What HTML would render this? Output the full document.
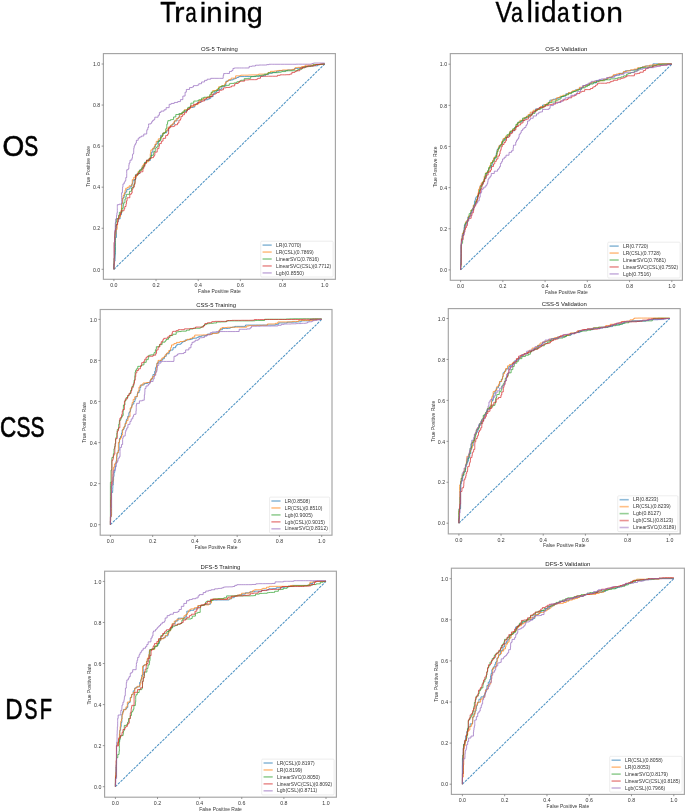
<!DOCTYPE html><html><head><meta charset="utf-8"><style>html,body{margin:0;padding:0;background:#fff;}svg{display:block;filter:blur(0.35px);}text{font-family:"Liberation Sans",sans-serif;}</style></head><body>
<svg width="685" height="812" viewBox="0 0 685 812">
<rect x="0" y="0" width="685" height="812" fill="#fff"/>
<text x="160.2" y="21.8" font-size="29.2" textLength="15.72" lengthAdjust="spacingAndGlyphs" fill="#000" stroke="#000" stroke-width="0.35">T</text>
<text transform="translate(0,21.8) scale(1,0.92)" x="174.11" y="0" font-size="29.2" textLength="10.5" lengthAdjust="spacingAndGlyphs" fill="#000" stroke="#000" stroke-width="0.35">r</text>
<text transform="translate(0,21.8) scale(1,0.92)" x="185.29" y="0" font-size="29.2" textLength="11.53" lengthAdjust="spacingAndGlyphs" fill="#000" stroke="#000" stroke-width="0.35">a</text>
<text transform="translate(0,21.8) scale(1,0.95)" x="199.76" y="0" font-size="29.2" textLength="6.49" lengthAdjust="spacingAndGlyphs" fill="#000" stroke="#000" stroke-width="0.35">i</text>
<text transform="translate(0,21.8) scale(1,0.92)" x="206.23" y="0" font-size="29.2" textLength="16.3" lengthAdjust="spacingAndGlyphs" fill="#000" stroke="#000" stroke-width="0.35">n</text>
<text transform="translate(0,21.8) scale(1,0.95)" x="223.66" y="0" font-size="29.2" textLength="6.49" lengthAdjust="spacingAndGlyphs" fill="#000" stroke="#000" stroke-width="0.35">i</text>
<text transform="translate(0,21.8) scale(1,0.92)" x="230.83" y="0" font-size="29.2" textLength="16.3" lengthAdjust="spacingAndGlyphs" fill="#000" stroke="#000" stroke-width="0.35">n</text>
<text transform="translate(0,21.8) scale(1,0.92)" x="246.77" y="0" font-size="29.2" textLength="16.02" lengthAdjust="spacingAndGlyphs" fill="#000" stroke="#000" stroke-width="0.35">g</text>
<text x="495.57" y="21.9" font-size="29.2" textLength="16.57" lengthAdjust="spacingAndGlyphs" fill="#000" stroke="#000" stroke-width="0.35">V</text>
<text transform="translate(0,21.9) scale(1,0.92)" x="511.06" y="0" font-size="29.2" textLength="11.96" lengthAdjust="spacingAndGlyphs" fill="#000" stroke="#000" stroke-width="0.35">a</text>
<text transform="translate(0,21.9) scale(1,0.98)" x="526.42" y="0" font-size="29.2" textLength="6.45" lengthAdjust="spacingAndGlyphs" fill="#000" stroke="#000" stroke-width="0.35">l</text>
<text transform="translate(0,21.9) scale(1,0.95)" x="533.71" y="0" font-size="29.2" textLength="6.49" lengthAdjust="spacingAndGlyphs" fill="#000" stroke="#000" stroke-width="0.35">i</text>
<text transform="translate(0,21.9) scale(1,0.98)" x="541.1" y="0" font-size="29.2" textLength="15.52" lengthAdjust="spacingAndGlyphs" fill="#000" stroke="#000" stroke-width="0.35">d</text>
<text transform="translate(0,21.9) scale(1,0.92)" x="556.9" y="0" font-size="29.2" textLength="12.72" lengthAdjust="spacingAndGlyphs" fill="#000" stroke="#000" stroke-width="0.35">a</text>
<text transform="translate(0,21.9) scale(1,0.95)" x="571.9" y="0" font-size="29.2" textLength="8.76" lengthAdjust="spacingAndGlyphs" fill="#000" stroke="#000" stroke-width="0.35">t</text>
<text transform="translate(0,21.9) scale(1,0.95)" x="582.61" y="0" font-size="29.2" textLength="6.49" lengthAdjust="spacingAndGlyphs" fill="#000" stroke="#000" stroke-width="0.35">i</text>
<text transform="translate(0,21.9) scale(1,0.92)" x="589.79" y="0" font-size="29.2" textLength="15.72" lengthAdjust="spacingAndGlyphs" fill="#000" stroke="#000" stroke-width="0.35">o</text>
<text transform="translate(0,21.9) scale(1,0.92)" x="606.38" y="0" font-size="29.2" textLength="16.69" lengthAdjust="spacingAndGlyphs" fill="#000" stroke="#000" stroke-width="0.35">n</text>
<text x="2.5" y="155.8" font-size="29.2" textLength="21.71" lengthAdjust="spacingAndGlyphs" fill="#000" stroke="#000" stroke-width="0.65">O</text>
<text x="24.37" y="155.8" font-size="29.2" textLength="13.96" lengthAdjust="spacingAndGlyphs" fill="#000" stroke="#000" stroke-width="0.65">S</text>
<text x="0.08" y="436.8" font-size="29.2" textLength="16.25" lengthAdjust="spacingAndGlyphs" fill="#000" stroke="#000" stroke-width="0.65">C</text>
<text x="16.47" y="436.8" font-size="29.2" textLength="13.96" lengthAdjust="spacingAndGlyphs" fill="#000" stroke="#000" stroke-width="0.65">S</text>
<text x="30.47" y="436.8" font-size="29.2" textLength="13.96" lengthAdjust="spacingAndGlyphs" fill="#000" stroke="#000" stroke-width="0.65">S</text>
<text x="5.35" y="718.9" font-size="29.2" textLength="17.37" lengthAdjust="spacingAndGlyphs" fill="#000" stroke="#000" stroke-width="0.65">D</text>
<text x="24.45" y="718.9" font-size="29.2" textLength="12.92" lengthAdjust="spacingAndGlyphs" fill="#000" stroke="#000" stroke-width="0.65">S</text>
<text x="39.87" y="718.9" font-size="29.2" textLength="12.31" lengthAdjust="spacingAndGlyphs" fill="#000" stroke="#000" stroke-width="0.65">F</text>
<line x1="113.9" y1="269.3" x2="324.7" y2="64" stroke="#1f77b4" stroke-opacity="0.8" stroke-width="1.05" stroke-dasharray="2.55 1.1"/>
<polyline points="113.9,269.3 113.9,265.63 114,265.63 114,263.79 114.38,263.79 114.38,261.17 115.07,261.17 115.07,259.16 115.07,256.66 115.2,256.66 115.2,254.05 115.4,254.05 115.4,252.12 115.4,250.31 115.45,250.31 115.45,246.4 115.45,242.56 115.45,240.58 115.45,237.51 116.45,237.51 116.45,234.99 116.45,232.03 116.45,228.15 116.53,228.15 116.53,224.48 117.34,224.48 117.34,222.63 117.48,222.63 117.48,221.75 118.36,221.75 118.36,218.93 120.12,218.93 120.12,215.68 120.41,215.68 120.41,214.79 121.46,214.79 121.46,212.95 121.46,210.85 121.46,208.11 121.89,208.11 121.89,206.2 121.89,203.87 122.19,203.87 122.19,202.67 122.77,202.67 122.77,198.7 123.1,198.7 123.1,197.56 124.21,197.56 124.21,194.94 125.04,194.94 125.04,192.1 126.68,192.1 126.68,189.58 128.18,189.58 128.18,188.97 129.99,188.97 129.99,186.72 131.73,186.72 131.73,184.07 132.74,184.07 132.74,182.41 132.99,182.41 132.99,180.13 134.89,180.13 134.89,179.22 135.91,179.22 135.91,175.88 137.05,175.88 137.05,173.35 139.85,173.35 139.85,169.77 141.42,169.77 141.42,168.08 142.96,168.08 142.96,165.43 144.83,165.43 144.83,162.25 146.88,162.25 146.88,160.46 150.37,160.46 150.37,157.34 151.14,157.34 151.14,154.93 151.65,154.93 151.65,152.09 152.86,152.09 152.86,148.7 154.18,148.7 154.18,146.47 155.5,146.47 155.5,144.07 157.31,144.07 157.31,141.59 159.53,141.59 159.53,140.32 160.16,140.32 160.16,138.18 160.69,138.18 160.69,135.29 162.94,135.29 162.94,132.9 165.1,132.9 165.1,132.7 166.71,132.7 166.71,130.76 168.61,130.76 168.61,127.87 170.09,127.87 170.09,125.77 172.13,125.77 172.13,124.06 174.44,124.06 174.44,120.91 177.08,120.91 177.08,119.42 177.08,118.38 178.35,118.38 178.35,117.38 179.38,117.38 179.38,114.03 181.54,114.03 181.54,113.6 182.76,113.6 182.76,112.36 184.27,112.36 184.27,111.66 185.91,111.66 185.91,110.97 187.39,110.97 187.39,109.31 189.39,109.31 189.39,107.46 193.07,107.46 193.07,107.04 194.75,107.04 194.75,104.57 197.54,104.57 197.54,102.43 200.82,102.43 200.82,100.04 204.11,100.04 205.54,100.04 205.54,99.75 207.75,99.75 207.75,99.04 209.43,99.04 209.43,98.29 210.83,98.29 210.83,96.64 213.15,96.64 213.15,94.12 214.17,94.12 214.17,92.76 215.71,92.76 215.71,91.78 216.9,91.78 216.9,90.36 218.94,90.36 218.94,89.36 220.8,89.36 220.8,88.9 221.93,88.9 221.93,86.35 225.03,86.35 225.03,84.72 225.97,84.72 225.97,81.21 228.04,81.21 228.04,80.27 231,80.27 231,79.85 233.17,79.85 233.17,78.9 235.31,78.9 235.31,78.25 236.83,78.25 236.83,77.46 238.76,77.46 238.76,76.55 240.89,76.55 244.69,76.55 246.99,76.55 250.24,76.55 251.4,76.55 253.82,76.55 253.82,76.23 256.49,76.23 259.08,76.23 262.92,76.23 262.92,75.78 265.44,75.78 265.44,74.38 268.79,74.38 268.79,73.23 272.38,73.23 272.38,72.36 276.46,72.36 276.46,71.24 279.34,71.24 279.34,70.69 283.42,70.69 285.75,70.69 287.49,70.69 287.49,69.95 290.66,69.95 293.36,69.95 293.36,69.47 294.56,69.47 294.56,68.43 298.18,68.43 298.18,68.12 300.07,68.12 300.07,67.55 303.74,67.55 303.74,66.86 305.92,66.86 305.92,66.34 308.37,66.34 308.37,65.87 311.85,65.87 314.54,65.84 317.65,65.84 317.65,64.88 319.43,64.88 319.43,64.5 320.44,64.5 320.44,64.21 323.23,64.21 323.23,64 324.7,64" fill="none" stroke="#1f77b4" stroke-opacity="0.78" stroke-width="0.9" stroke-linejoin="miter"/>
<polyline points="113.9,269.3 113.9,267.84 113.9,266 114.05,266 114.05,263.42 114.52,263.42 114.52,259.92 114.52,258.59 114.52,256.2 114.52,252.78 114.52,249.49 114.52,247.73 114.52,246.6 114.52,245.48 114.69,245.48 114.69,243.35 114.86,243.35 114.86,241.62 114.86,239.87 114.86,237.51 115.31,237.51 115.34,235.77 115.34,234.14 115.95,234.14 115.95,232.99 115.95,229.45 117.11,229.45 117.11,227.84 117.24,227.84 117.24,223.68 117.35,223.68 117.35,221.63 117.68,221.63 117.68,218.69 118.93,218.69 118.93,216.8 120.52,216.8 120.52,212.97 121.11,212.97 121.11,210.13 121.54,210.13 121.54,206.28 121.54,203.54 122.39,203.54 122.39,202.36 122.39,199.89 122.39,198.54 123.2,198.54 123.2,195.54 124.05,195.54 124.05,193.51 125,193.51 125,190.24 125.74,190.24 125.74,188.22 127.51,188.22 127.51,187.3 127.91,187.3 129.13,187.3 129.13,185.79 132.05,185.79 132.05,183.42 132.27,183.42 132.27,179.57 133.7,179.57 133.7,177.26 136.42,177.26 136.42,175.76 137.36,175.76 137.36,173.12 138.17,173.12 138.17,171.21 139.76,171.21 139.76,170.23 141.68,170.23 141.68,169.29 142.17,169.29 142.17,165.94 143.44,165.94 143.44,163.93 145.82,163.93 145.82,161.68 148.82,161.68 148.82,159.19 150.27,159.19 150.27,157.92 150.27,156.3 150.27,153.71 150.68,153.71 150.68,151.92 150.86,151.92 150.86,149.91 152.73,149.91 152.73,148.1 154.36,148.1 154.36,146.99 154.79,146.99 154.79,144.47 156.23,144.47 156.23,141.35 158.25,141.35 158.25,138.85 160.97,138.85 160.97,136.98 161.48,136.98 161.48,136.22 162.67,136.22 162.67,134.8 162.67,133.46 163.81,133.46 163.81,132.66 165.02,132.66 165.02,131.85 166.01,131.85 166.01,130.75 167.09,130.75 167.09,129.2 168.19,129.2 168.19,127.09 170.64,127.09 170.64,125.06 172.17,125.06 172.17,124.46 173.14,124.46 173.14,122.95 173.94,122.95 173.94,121.67 174.61,121.67 174.61,120.82 176.15,120.82 176.15,118.64 178.1,118.64 178.1,117.85 178.87,117.85 178.87,116.71 179.84,116.71 179.84,114.36 182.08,114.36 182.08,112.3 184.31,112.3 184.31,109.77 187.52,109.77 187.52,108.28 190.62,108.28 190.62,106.72 193.29,106.72 193.29,105.76 195.36,105.76 195.36,104.21 197.94,104.21 197.94,103.72 199.07,103.72 199.07,100.61 201.62,100.61 201.62,99.63 203.36,99.63 203.36,98.13 207.1,98.13 207.1,96.93 210.26,96.93 210.26,96.22 211.09,96.22 211.09,92.76 212.73,92.76 212.73,90.54 216.43,90.54 216.43,89.52 218.57,89.52 218.57,86.82 221.64,86.82 221.64,85.73 224.66,85.73 224.66,83.8 225.57,83.8 225.57,82.34 226.45,82.34 226.45,81.57 227.63,81.57 227.63,80.85 228.79,80.85 228.79,79.61 231.08,79.61 231.08,78.12 232.6,78.12 233.9,78.12 235.61,78.12 235.61,75.85 238.43,75.85 238.43,75.79 240.69,75.79 240.69,75.18 244.32,75.18 248.31,75.18 248.31,75.03 251.45,75.03 251.45,74.92 254,74.92 257.32,74.92 257.32,74.78 258.61,74.78 258.61,74.12 260.1,74.12 263.67,74.12 265.91,74.12 267.98,74.12 267.98,72.45 270.52,72.45 270.52,71.33 274.38,71.33 274.38,70.99 277.18,70.99 277.18,70.75 278.53,70.75 278.53,70.44 282.26,70.44 282.26,69.98 285.73,69.98 288.72,69.98 292.22,69.98 292.22,69.39 293.87,69.39 293.87,69.21 295.16,69.21 295.16,67.61 297.65,67.61 297.65,67.36 301.64,67.36 301.64,66.51 305.03,66.51 305.03,65.16 308.5,65.16 309.85,65.16 311.25,65.13 313.05,65.12 313.05,64.76 317.17,64.76 317.17,64.4 318.69,64.4 318.69,64.24 320.48,64.24 320.48,64 324.7,64" fill="none" stroke="#ff7f0e" stroke-opacity="0.78" stroke-width="0.9" stroke-linejoin="miter"/>
<polyline points="113.9,269.3 113.9,265.28 113.9,263.97 113.94,260.33 113.94,258.32 114.59,258.32 114.59,255.39 114.78,255.39 114.8,253.86 114.8,251.48 115,251.48 115,247.33 115,243.33 115,241.54 115,240.29 115,238.28 115,236.03 115,233.37 115.3,233.37 115.3,231.56 115.3,230.11 115.46,230.11 115.46,227.43 115.46,225.89 115.82,225.89 115.82,222 116.39,222 116.39,218.64 118.5,218.64 118.5,215.37 119.38,215.37 119.38,212.3 122.12,212.3 122.12,208.35 123.28,208.35 123.28,205.05 123.62,205.05 123.62,202.85 124.94,202.85 124.94,199.03 125.85,199.03 125.85,196.48 126.37,196.48 126.37,194.35 129.44,194.35 129.44,191.33 131.51,191.33 131.51,187.9 133.67,187.9 133.67,184.75 134.68,184.75 134.68,182.71 134.97,182.71 134.97,179.47 135.4,179.47 135.4,177.46 135.4,174.7 138.6,174.7 138.6,171.77 139.79,171.77 139.79,170.09 142.09,170.09 142.09,167.67 143.64,167.67 143.64,165.96 144.7,165.96 144.7,162.5 146.68,162.5 146.68,160.28 149.03,160.28 149.03,158.25 151.08,158.25 151.08,155.33 153.44,155.33 153.44,154.11 153.77,154.11 153.77,151.62 155.24,151.62 155.24,148.01 156.33,148.01 156.33,147.05 157.85,147.05 157.85,145.31 158.35,145.31 158.38,143.54 158.38,140.83 160.24,140.83 160.24,139.9 160.9,139.9 160.9,137.04 162.23,137.04 162.23,135.94 162.93,135.94 162.93,133.32 164.97,133.32 164.97,132.46 165.67,132.46 165.67,130.8 165.67,129.33 166.03,129.33 166.03,128.3 166.82,128.3 166.82,124.23 167.55,124.23 167.55,122.14 167.88,122.14 167.88,120.64 170.39,120.64 170.39,119.71 172.29,119.71 172.29,119.48 173.58,119.48 173.58,116.94 175.8,116.94 175.8,114.52 178.81,114.52 178.81,113.68 181.95,113.68 181.95,112.13 184,112.13 184,110.34 185.3,110.34 186.99,110.34 186.99,109.14 187.87,109.14 187.87,107.39 190.19,107.39 190.19,105.96 190.87,105.96 190.87,103.15 193.76,103.15 193.76,101.05 194.99,101.05 196.44,101.05 197.67,101.03 197.67,100.69 198.76,100.69 198.76,99.72 201.62,99.72 201.62,98.07 203.87,98.07 203.87,97.24 207.82,97.24 207.82,96.97 209.65,96.97 209.65,94.72 211.31,94.72 211.31,92.13 212.82,92.13 212.82,91.72 214.58,91.72 214.58,90.91 216.8,90.91 216.8,90.46 217.87,90.46 217.87,88.53 219.37,88.53 219.37,87.17 220.58,87.17 220.58,86.44 221.72,86.44 221.72,85.88 223.64,85.88 226.36,85.88 226.36,85.37 229.26,85.37 229.26,83.82 230.43,83.82 230.43,83.41 233.88,83.41 233.88,82.95 236.3,82.95 236.3,82.27 237.31,82.27 237.31,81.64 239.5,81.64 239.5,81.09 240.73,81.09 240.73,80.28 244.18,80.28 244.18,78.64 247.78,78.64 247.78,78.35 250.73,78.35 250.73,76.55 252.59,76.55 253.77,76.55 255.79,76.55 255.79,75.94 259.37,75.94 259.37,75.42 261.76,75.42 261.76,75.13 264.08,75.13 264.08,74.27 266.83,74.27 266.83,73.99 268.06,73.99 268.06,72.85 271.88,72.85 271.88,72.75 273.16,72.75 273.16,72.66 276,72.66 278.34,72.66 278.34,72.3 280.49,72.3 280.49,71.96 281.9,71.96 281.9,71.59 285.57,71.59 285.57,70.78 288.57,70.78 289.71,70.78 292.8,70.78 295.5,70.78 297.71,70.78 297.71,69.54 299.22,69.54 299.22,69.25 301.99,69.25 301.99,67.83 305.09,67.83 305.09,66.63 308.88,66.63 308.88,66.54 310.66,66.54 310.66,65.89 313.14,65.89 313.14,64.69 316.12,64.69 316.12,64.58 320.04,64.58 320.04,64.51 321.37,64.51 321.37,64.1 323.5,64.1 323.5,64 324.7,64" fill="none" stroke="#2ca02c" stroke-opacity="0.78" stroke-width="0.9" stroke-linejoin="miter"/>
<polyline points="113.9,269.3 113.9,267.52 113.99,267.52 113.99,264.59 114.12,264.59 114.12,261.6 114.12,257.95 114.12,256.1 114.12,253.59 114.12,249.94 114.12,248.43 114.12,245.41 114.12,242.13 114.54,242.13 114.54,238.91 114.54,236.06 114.81,236.06 114.81,233.99 114.81,231.59 115.54,231.59 115.54,228.38 116.02,228.38 116.02,224.69 117.61,224.69 117.61,222.43 117.91,222.43 117.91,218.64 119.16,218.64 119.16,215.18 120.25,215.18 120.25,213.72 121.17,213.72 121.17,210.77 124.04,210.77 124.04,208.87 124.75,208.87 124.75,206.53 126.01,206.53 126.01,203.69 126.54,203.69 126.54,200.72 127.13,200.72 127.13,197.77 129.82,197.77 129.82,194.29 131.29,194.29 131.29,193.11 132.14,193.11 132.14,189.36 132.79,189.36 132.79,187.01 134.27,187.01 134.27,183.83 135.04,183.83 135.04,180.94 135.12,180.94 135.12,179.05 135.5,179.05 135.5,175.15 137.5,175.15 137.5,173.89 138.5,173.89 138.5,173.36 140.1,173.36 140.1,171.91 141.42,171.91 141.42,171.75 142.93,171.75 142.93,168.57 143.75,168.57 143.75,166.73 144.71,166.73 144.71,163.32 146.51,163.32 146.51,160.14 149.37,160.14 149.37,158.63 150.74,158.63 150.74,157.96 151.67,157.96 151.67,157.63 153.48,157.63 153.48,156.36 154.3,156.36 154.3,155.33 154.88,155.33 154.88,152.1 157.18,152.1 157.18,148.66 158.93,148.66 158.93,146 159.45,146 159.45,143.58 161.35,143.58 161.35,141.11 163.03,141.11 163.03,138.34 165.61,138.34 165.61,135.55 167.65,135.55 167.65,134.04 168.61,134.04 168.61,131 168.61,128.15 169.86,128.15 169.86,126.69 172.33,126.69 172.33,126.59 173.64,126.59 173.64,126.15 174.84,126.15 174.84,124.73 177.52,124.73 177.52,123.02 178.92,123.02 178.92,120.15 180.58,120.15 180.58,118.98 180.97,118.98 180.97,116.4 182.61,116.4 182.61,114.74 184.44,114.74 184.44,112.72 186.51,112.72 186.51,110.86 187.43,110.86 187.43,109.43 189.14,109.43 189.14,108 190.66,108 190.66,105.82 193.41,105.82 193.41,104.37 196.42,104.37 196.42,103.46 198.21,103.46 198.21,102.07 199.51,102.07 201.43,102.07 201.43,101.41 202.52,101.41 202.52,100.99 204.59,100.99 204.59,99.16 206.42,99.16 206.42,97.82 209.88,97.82 209.88,96.51 212.32,96.51 212.32,94.24 215.42,94.24 215.42,93.51 216.66,93.51 216.66,92.53 219.18,92.53 219.18,90.22 221.83,90.22 221.83,89.75 223.46,89.75 223.46,87.84 226.17,87.84 226.17,87.44 229.75,87.44 229.75,86.94 231.63,86.94 231.63,85.92 234.66,85.92 234.66,83.85 235.8,83.85 235.8,83.5 238.24,83.5 238.24,82.41 239.54,82.41 239.54,81.4 240.38,81.4 240.38,81.18 244.59,81.18 244.59,79.93 246.81,79.93 248.64,79.93 248.64,79.66 251.93,79.66 254.69,79.66 256.62,79.66 256.62,79.17 257.78,79.17 257.78,78.3 260.47,78.3 260.47,76.91 260.91,76.91 260.91,76.24 264.83,76.24 268.7,76.24 272.54,76.24 275.89,76.24 277.47,76.24 277.47,75.34 280.11,75.34 280.11,74.82 282.42,74.82 284.55,74.82 286.27,74.8 286.27,74.7 289.8,74.7 289.8,74.07 291.85,74.07 291.85,72.43 294.86,72.43 294.86,71.58 296.19,71.58 296.19,70.74 299.85,70.74 299.85,68.46 302.69,68.46 302.69,67.22 306.21,67.22 306.21,66.91 307.38,66.91 307.38,66.11 309.97,66.11 312.45,66.11 313.43,66.11 313.43,65.7 314.58,65.7 314.58,65.35 315.8,65.35 315.8,64.57 319.78,64.57 319.78,64.21 322.37,64.21 322.37,64 324.7,64" fill="none" stroke="#d62728" stroke-opacity="0.78" stroke-width="0.9" stroke-linejoin="miter"/>
<polyline points="113.9,269.3 113.9,267.52 113.9,266 113.9,264.75 114.2,264.75 114.2,261.22 114.2,257.79 114.2,255.88 114.2,254.31 114.2,250.37 114.2,246.75 114.2,245.1 114.27,245.1 114.27,243.1 114.63,243.1 114.63,239.39 114.86,239.39 114.86,235.64 114.86,232.53 114.86,229.99 115.29,229.99 115.29,228.79 115.29,224.84 115.29,222.86 115.65,222.86 115.65,218.99 116.51,218.99 116.51,215.4 116.92,215.4 116.92,212.8 117.33,212.8 117.33,210.36 117.33,208.83 117.33,207.57 117.33,206.59 117.33,204.68 119.19,204.68 119.19,204.16 121.62,204.16 121.62,201.77 121.62,199.46 121.62,197.53 121.62,195.44 121.62,192.71 122.44,192.71 122.44,188.85 122.58,188.85 122.58,187.11 122.95,187.11 122.95,183.91 124.21,183.91 124.21,182.08 125.07,182.08 125.07,180.67 125.8,180.67 125.8,177.54 126.7,177.54 126.73,173.63 126.73,169.79 128.15,169.79 128.15,168.86 128.83,168.86 128.83,165.18 129.12,165.18 129.12,163.03 130,163.03 130,160.11 131.89,160.11 131.89,158.23 132.4,158.23 132.4,156.74 132.51,156.74 132.51,154.56 132.97,154.56 132.97,153.63 133.63,153.63 133.63,152.43 133.69,152.43 133.69,150.22 133.76,150.22 133.76,148.24 134.17,148.24 134.17,145.98 134.85,145.98 134.85,144.46 135.66,144.46 135.66,143.04 136.39,143.04 136.39,140.29 138.2,140.29 138.2,138.14 139.61,138.14 139.61,137.07 141.3,137.07 141.3,136.05 143.79,136.05 143.79,134.03 146.72,134.03 146.72,131.27 146.86,131.27 146.86,129.74 147.8,129.74 147.8,127.52 148.58,127.52 148.58,125.6 148.58,123.96 150.93,123.96 150.93,123.12 151.7,123.12 151.7,121.67 152.64,121.67 152.64,120.41 153.8,120.41 153.8,119.63 154.77,119.63 154.77,117.21 158.1,117.21 158.1,115.21 159.41,115.21 159.41,112.43 160.96,112.43 160.96,111.11 164.05,111.11 164.05,109.79 166.12,109.79 166.12,107.65 169.16,107.65 169.16,104.34 171.17,104.34 171.17,103.45 174.28,103.45 174.28,102.45 177.72,102.45 177.72,101.56 180.43,101.56 180.43,99.62 182.83,99.62 182.83,96.07 185.09,96.07 185.09,92.17 186.35,92.17 186.35,89.44 189.55,89.44 189.55,87.58 192.07,87.58 192.07,87 193.5,87 193.5,85.64 197.36,85.64 197.36,85.14 198.78,85.14 198.78,83.72 201.55,83.72 201.55,81.97 204.58,81.97 204.58,80.36 206,80.36 207.11,80.36 207.11,79.19 210.73,79.19 210.73,78.34 214.11,78.34 218.08,78.34 219.75,78.34 223.2,78.34 223.2,75.48 223.67,75.48 223.67,73.59 225.34,73.59 225.34,73.46 226.48,73.46 229.49,73.46 229.49,71.48 231.8,71.48 231.8,70.52 232.96,70.52 232.96,68.43 234.33,68.43 234.33,67.98 235.38,67.98 236.73,67.98 239.48,67.98 241.44,67.98 243.28,67.98 244.58,67.98 246,67.98 249.16,67.98 249.16,66.42 250.63,66.42 251.77,66.42 251.77,66 255.51,66 255.51,65.2 259.11,65.2 259.11,65.02 261.47,65.02 265.24,65.02 266.83,64.98 266.83,64.64 268.93,64.64 268.93,64.28 271.66,64.28 272.72,64.28 274.73,64.28 278,64.28 280.55,64.28 284.24,64.28 286.03,64.28 289,64.28 292.16,64.28 296.04,64.28 296.04,64.18 298.54,64.18 302.29,64.18 305.78,64.18 307.26,64.18 310.71,64.18 310.71,63.99 312.16,63.99 312.16,63.49 313.46,63.49 313.46,63.05 315.05,63.05 318.91,63.05 321.04,63.05 324.7,63.05" fill="none" stroke="#9467bd" stroke-opacity="0.78" stroke-width="0.9" stroke-linejoin="miter"/>
<rect x="103.4" y="53.6" width="232" height="225.7" fill="none" stroke="#a4a4a4" stroke-width="1.15"/>
<line x1="113.9" y1="279.3" x2="113.9" y2="281.1" stroke="#777" stroke-width="0.75"/>
<line x1="103.4" y1="269.3" x2="101.6" y2="269.3" stroke="#777" stroke-width="0.75"/>
<text x="113.9" y="287.1" font-size="4.85" text-anchor="middle" fill="#363636" textLength="7.28" lengthAdjust="spacingAndGlyphs">0.0</text>
<text x="100.2" y="271.5" font-size="4.85" text-anchor="end" fill="#363636" textLength="7.28" lengthAdjust="spacingAndGlyphs">0.0</text>
<line x1="156.06" y1="279.3" x2="156.06" y2="281.1" stroke="#777" stroke-width="0.75"/>
<line x1="103.4" y1="228.24" x2="101.6" y2="228.24" stroke="#777" stroke-width="0.75"/>
<text x="156.06" y="287.1" font-size="4.85" text-anchor="middle" fill="#363636" textLength="7.28" lengthAdjust="spacingAndGlyphs">0.2</text>
<text x="100.2" y="230.44" font-size="4.85" text-anchor="end" fill="#363636" textLength="7.28" lengthAdjust="spacingAndGlyphs">0.2</text>
<line x1="198.22" y1="279.3" x2="198.22" y2="281.1" stroke="#777" stroke-width="0.75"/>
<line x1="103.4" y1="187.18" x2="101.6" y2="187.18" stroke="#777" stroke-width="0.75"/>
<text x="198.22" y="287.1" font-size="4.85" text-anchor="middle" fill="#363636" textLength="7.28" lengthAdjust="spacingAndGlyphs">0.4</text>
<text x="100.2" y="189.38" font-size="4.85" text-anchor="end" fill="#363636" textLength="7.28" lengthAdjust="spacingAndGlyphs">0.4</text>
<line x1="240.38" y1="279.3" x2="240.38" y2="281.1" stroke="#777" stroke-width="0.75"/>
<line x1="103.4" y1="146.12" x2="101.6" y2="146.12" stroke="#777" stroke-width="0.75"/>
<text x="240.38" y="287.1" font-size="4.85" text-anchor="middle" fill="#363636" textLength="7.28" lengthAdjust="spacingAndGlyphs">0.6</text>
<text x="100.2" y="148.32" font-size="4.85" text-anchor="end" fill="#363636" textLength="7.28" lengthAdjust="spacingAndGlyphs">0.6</text>
<line x1="282.54" y1="279.3" x2="282.54" y2="281.1" stroke="#777" stroke-width="0.75"/>
<line x1="103.4" y1="105.06" x2="101.6" y2="105.06" stroke="#777" stroke-width="0.75"/>
<text x="282.54" y="287.1" font-size="4.85" text-anchor="middle" fill="#363636" textLength="7.28" lengthAdjust="spacingAndGlyphs">0.8</text>
<text x="100.2" y="107.26" font-size="4.85" text-anchor="end" fill="#363636" textLength="7.28" lengthAdjust="spacingAndGlyphs">0.8</text>
<line x1="324.7" y1="279.3" x2="324.7" y2="281.1" stroke="#777" stroke-width="0.75"/>
<line x1="103.4" y1="64" x2="101.6" y2="64" stroke="#777" stroke-width="0.75"/>
<text x="324.7" y="287.1" font-size="4.85" text-anchor="middle" fill="#363636" textLength="7.28" lengthAdjust="spacingAndGlyphs">1.0</text>
<text x="100.2" y="66.2" font-size="4.85" text-anchor="end" fill="#363636" textLength="7.28" lengthAdjust="spacingAndGlyphs">1.0</text>
<text x="219.4" y="292.6" font-size="4.85" text-anchor="middle" fill="#363636" textLength="42.57" lengthAdjust="spacingAndGlyphs">False Positive Rate</text>
<text transform="translate(89.6,166.45) rotate(-90)" x="0" y="0" font-size="4.85" text-anchor="middle" fill="#363636" textLength="40.8" lengthAdjust="spacingAndGlyphs">True Positive Rate</text>
<text x="219.4" y="50.9" font-size="5.83" text-anchor="middle" fill="#1a1a1a" textLength="36.75" lengthAdjust="spacingAndGlyphs">OS-5 Training</text>
<rect x="260.72" y="241.21" width="72.39" height="35.8" rx="1" fill="#fff" fill-opacity="0.85" stroke="#e0e0e0" stroke-width="0.6"/>
<line x1="262.55" y1="245.11" x2="271.71" y2="245.11" stroke="#1f77b4" stroke-opacity="0.5" stroke-width="1.6"/>
<text x="275.98" y="246.78" font-size="4.85" fill="#363636" textLength="25.33" lengthAdjust="spacingAndGlyphs">LR(0.7070)</text>
<line x1="262.55" y1="252.06" x2="271.71" y2="252.06" stroke="#ff7f0e" stroke-opacity="0.5" stroke-width="1.6"/>
<text x="275.98" y="253.73" font-size="4.85" fill="#363636" textLength="37.56" lengthAdjust="spacingAndGlyphs">LR(CSL)(0.7869)</text>
<line x1="262.55" y1="259.01" x2="271.71" y2="259.01" stroke="#2ca02c" stroke-opacity="0.5" stroke-width="1.6"/>
<text x="275.98" y="260.68" font-size="4.85" fill="#363636" textLength="43.07" lengthAdjust="spacingAndGlyphs">LinearSVC(0.7816)</text>
<line x1="262.55" y1="265.96" x2="271.71" y2="265.96" stroke="#d62728" stroke-opacity="0.5" stroke-width="1.6"/>
<text x="275.98" y="267.63" font-size="4.85" fill="#363636" textLength="55.3" lengthAdjust="spacingAndGlyphs">LinearSVC(CSL)(0.7712)</text>
<line x1="262.55" y1="272.91" x2="271.71" y2="272.91" stroke="#9467bd" stroke-opacity="0.5" stroke-width="1.6"/>
<text x="275.98" y="274.58" font-size="4.85" fill="#363636" textLength="27.97" lengthAdjust="spacingAndGlyphs">Lgb(0.8550)</text>
<line x1="460.6" y1="269.9" x2="671.8" y2="64.2" stroke="#1f77b4" stroke-opacity="0.8" stroke-width="1.05" stroke-dasharray="2.55 1.1"/>
<polyline points="460.6,269.9 460.6,267.08 460.79,267.08 460.79,265.39 460.79,261.82 460.79,260.28 461.03,260.28 461.03,257.61 461.03,253.6 461.03,249.36 461.03,246.48 461.03,244.32 461.35,244.32 461.35,241.8 461.35,238.73 462.27,238.73 462.27,235.45 463.35,235.45 463.35,231.29 463.72,231.29 463.72,230.26 464.4,230.26 464.4,229.08 464.4,226.96 464.4,225.01 465.38,225.01 465.38,222.7 467.02,222.7 467.02,220.35 467.77,220.35 467.77,217.13 469.49,217.13 469.49,215.84 470.34,215.84 470.34,214.68 470.6,214.68 470.6,212.43 471.69,212.43 471.69,210.16 473.4,210.16 473.4,206.52 474.19,206.52 474.19,204.3 474.48,204.3 474.48,201.37 475.04,201.37 475.04,200.07 475.38,200.07 475.38,198.62 475.96,198.62 475.96,196.86 478.13,196.86 478.13,194.62 478.77,194.62 478.77,191.69 479.41,191.69 479.41,190.1 479.73,190.1 479.73,188.57 480.18,188.57 480.18,185.74 481.36,185.74 481.36,183.83 483.3,183.83 483.3,181.85 484.09,181.85 484.09,178.82 485.31,178.82 485.31,176.94 486.18,176.94 486.18,174.62 486.95,174.62 486.95,172.33 488.77,172.33 488.77,169.15 489.44,169.15 489.44,168.02 491.18,168.02 491.18,165.56 492.21,165.56 492.21,162.62 492.86,162.62 492.86,160.32 493.81,160.32 493.81,158.55 495.4,158.55 495.4,155.92 496.22,155.92 496.22,153.48 497.03,153.48 497.03,149.62 498.34,149.62 498.34,147.55 499.44,147.55 499.44,145.32 501.1,145.32 501.1,144.27 501.7,144.27 501.7,142.23 503.07,142.23 503.07,139.31 506.03,139.31 506.03,137.41 507.51,137.41 507.51,135.91 509.73,135.91 509.73,132.76 511.96,132.76 511.96,130.83 514.58,130.83 514.58,127.38 516.59,127.38 516.59,126.06 517.34,126.06 517.34,123.02 518.83,123.02 518.83,121.97 521.85,121.97 521.85,120.74 524.03,120.74 524.03,118.23 526.65,118.23 526.65,116.23 529.79,116.23 529.79,114.16 532.34,114.16 532.34,111.93 535.53,111.93 535.53,108.91 537.8,108.91 537.8,108.74 539.88,108.74 539.88,107.15 542.58,107.15 542.58,105 545.79,105 545.79,104.54 547.43,104.54 547.43,103.7 548.84,103.7 548.84,102.12 549.84,102.12 549.84,100.11 553.08,100.11 553.08,99.23 555.47,99.23 555.47,98.68 558.26,98.68 558.26,97.62 560.37,97.62 560.37,97.13 562.07,97.13 562.07,96.52 564.16,96.52 564.16,96.03 565.79,96.03 565.79,93.76 568.07,93.76 568.07,92.98 571.12,92.98 571.12,92.35 572.21,92.35 572.21,91.57 573.15,91.57 573.15,91.49 575.09,91.49 575.09,89.88 577.68,89.88 577.68,89.22 579.49,89.22 579.49,88.26 582.05,88.26 582.05,87.35 583.67,87.35 583.67,85.59 586.32,85.59 586.32,85.11 588.84,85.11 588.84,83.89 591.11,83.89 591.11,82.93 594.15,82.93 596.51,82.93 596.51,80.43 599.5,80.43 599.5,80.24 602.84,80.24 602.84,79.53 603.95,79.53 605.25,79.53 607.27,79.53 607.27,78.02 609.83,78.02 609.83,77.48 611.67,77.48 611.67,76.96 612.91,76.96 612.91,75.82 616.23,75.82 616.23,75.06 619.49,75.06 619.49,73.38 623.13,73.38 623.13,72.07 625.19,72.07 625.19,70.77 629.15,70.77 629.15,70.61 630.83,70.61 630.83,70.28 634.55,70.28 634.55,69.52 638.03,69.52 638.03,68.13 641.22,68.13 641.22,68 642.41,68 642.41,66.75 645.41,66.75 645.41,65.97 649.05,65.97 649.05,65.89 651.36,65.89 651.36,65.74 652.9,65.74 652.9,63.83 655.68,63.83 656.91,63.83 660.82,63.83 663.09,63.83 665.92,63.83 669.63,63.83 671.8,63.83" fill="none" stroke="#1f77b4" stroke-opacity="0.78" stroke-width="0.9" stroke-linejoin="miter"/>
<polyline points="460.6,269.9 460.6,267.45 460.89,267.45 460.89,264.96 461.18,264.96 461.18,262.33 461.37,262.33 461.37,259.69 461.37,256.69 461.37,254.7 461.37,253.38 461.37,252.21 461.37,248.1 461.37,245.17 461.37,243.56 461.37,242.38 461.37,240.8 461.65,240.8 461.65,238.34 462.09,238.34 462.09,235.93 462.41,235.93 462.41,233.1 463.67,233.1 463.67,230.65 464.5,230.65 464.5,228.89 465.29,228.89 465.29,224.63 465.64,224.63 465.64,221.71 467.11,221.71 467.11,219.93 468.08,219.93 468.08,218.68 468.4,218.68 468.4,216 470.73,216 470.73,213.69 471.09,213.69 471.09,210 472.64,210 472.64,208.42 473.26,208.42 473.26,205.11 475.67,205.11 475.67,202.72 475.67,201.65 476.36,201.65 476.36,199.96 477.22,199.96 477.22,198.78 477.8,198.78 477.8,195.07 477.8,193.78 478.16,193.78 478.16,192.59 478.47,192.59 478.47,189.25 479.62,189.25 479.62,186.85 480.27,186.85 480.27,185.5 481.25,185.5 481.25,182.88 482.87,182.88 482.87,181.71 483.69,181.71 483.69,179.89 484.22,179.89 484.22,176.11 485.73,176.11 485.73,172.79 487.64,172.79 487.64,171.53 488.86,171.53 488.86,168.41 489.44,168.41 489.44,167.07 489.78,167.07 489.78,165.49 490.74,165.49 490.74,162.52 492.52,162.52 492.52,161.22 492.77,161.22 492.77,160.22 493.72,160.22 493.72,157.67 495.13,157.67 495.13,156.13 496.98,156.13 496.98,153.41 497.27,153.41 497.27,150.67 498.07,150.67 498.07,149.34 498.84,149.34 498.84,145.83 500.41,145.83 500.41,144.65 501.58,144.65 501.58,141.64 503.1,141.64 503.1,138.54 505.62,138.54 505.62,135.97 508.43,135.97 508.43,135.04 509.44,135.04 509.44,133.82 509.82,133.82 509.82,131.56 512.14,131.56 512.14,130.05 513.23,130.05 513.23,129.11 515.06,129.11 515.06,127.69 515.93,127.69 515.93,126.26 516.94,126.26 516.94,123.66 518.06,123.66 518.06,122.8 519.83,122.8 519.83,120.32 522.86,120.32 522.86,119.15 524.32,119.15 524.32,117.62 526.23,117.62 526.23,116.42 528.04,116.42 528.04,114.58 530.19,114.58 530.19,112.19 533.17,112.19 533.17,110.23 536.82,110.23 536.82,109.38 539.58,109.38 539.58,108.43 540.76,108.43 540.76,106.49 544.13,106.49 544.13,104.69 546.82,104.69 546.82,103.14 549.42,103.14 549.42,101.83 551.6,101.83 551.6,99.95 555.32,99.95 555.32,99.75 556.69,99.75 556.69,97.61 559.89,97.61 559.89,96.21 562.74,96.21 562.74,95.2 566.66,95.2 566.66,94.16 568.53,94.16 568.53,92.57 571.94,92.57 571.94,91.01 573.72,91.01 573.72,90.6 576.6,90.6 576.6,89.47 579.37,89.47 579.37,87.28 581.69,87.28 583.2,87.27 583.2,85.87 586.4,85.87 586.4,84.82 589.54,84.82 589.54,83.01 591.94,83.01 591.94,82.06 594.17,82.06 594.17,81.36 597.48,81.36 598.66,81.36 598.66,81.08 600.39,81.08 600.39,80.67 603.6,80.67 603.6,79.18 607.29,79.18 607.29,78.05 608.87,78.05 608.87,77.11 611.88,77.11 611.88,76.18 613.34,76.18 613.34,74.64 616.11,74.64 616.11,74.05 618.35,74.05 618.35,73.44 621.48,73.44 623.35,73.44 623.35,71.58 626.72,71.58 626.72,70.84 630.42,70.84 630.42,69.79 632.25,69.79 633.89,69.79 633.89,69.1 637.38,69.1 637.38,67.79 640.42,67.79 640.42,67.55 641.97,67.55 641.97,67.04 644.36,67.04 644.36,66.2 646.56,66.2 646.56,66.03 649.59,66.03 649.59,65.13 653.14,65.13 653.14,64.71 657.16,64.71 657.16,64.54 658.3,64.54 658.3,63.75 662.05,63.75 664.87,63.75 666.88,63.75 668.35,63.75 671.8,63.75" fill="none" stroke="#ff7f0e" stroke-opacity="0.78" stroke-width="0.9" stroke-linejoin="miter"/>
<polyline points="460.6,269.9 460.6,267.38 460.72,267.38 460.72,265.89 460.99,265.89 460.99,264.82 461.06,264.82 461.06,261.25 461.06,258.06 461.17,258.06 461.17,254.95 461.28,254.95 461.28,253.46 461.28,249.65 461.28,248.41 461.28,245.26 461.62,245.26 461.62,243.31 462.58,243.31 462.58,242.09 462.58,240.8 462.58,239.57 462.58,235.5 463.02,235.5 463.02,233.23 463.67,233.23 463.67,231.88 464.27,231.88 464.27,230.2 464.27,227.04 464.91,227.04 464.91,223.77 466.38,223.77 466.38,221.97 467.94,221.97 467.94,219.53 468.73,219.53 468.73,217.25 469.14,217.25 469.14,213.67 471.06,213.67 471.06,210.08 472.93,210.08 472.93,208.15 474.03,208.15 474.03,205.1 475,205.1 475,203.43 475.6,203.43 475.6,201.61 476.9,201.61 476.9,199.05 477.45,199.05 477.45,197.82 477.45,195.44 478.62,195.44 478.62,193.9 479.4,193.9 479.4,190.5 480.18,190.5 480.18,189.29 480.83,189.29 480.83,186.35 482.05,186.35 482.05,185.27 482.46,185.27 482.46,182.29 483.22,182.29 483.22,181.35 484.07,181.35 484.07,179.54 484.71,179.54 484.71,177.02 485.26,177.02 485.26,173.47 487.18,173.47 487.18,171.91 487.52,171.91 487.52,170.6 488.6,170.6 488.6,167.59 490.12,167.59 490.12,165.94 491.03,165.94 491.03,162.96 492.75,162.96 492.75,161.85 492.92,161.85 492.92,161.26 494.36,161.26 494.36,157.71 496.54,157.71 496.54,154.94 496.88,154.94 496.88,151.65 498.08,151.65 498.08,148.36 499.65,148.36 499.65,146.18 501.09,146.18 501.09,144.12 502.56,144.12 502.56,140.82 504.81,140.82 504.81,137.71 506.96,137.71 506.96,134.67 509.21,134.67 509.21,132.97 510.21,132.97 510.21,131.01 512.8,131.01 512.8,128.75 515.06,128.75 515.06,127.06 515.84,127.06 515.84,124.57 517.81,124.57 517.81,122.18 520.77,122.18 520.77,120.72 522.62,120.72 522.62,118.06 525.77,118.06 525.77,117.29 528.62,117.29 528.62,115.3 532.18,115.3 532.18,113.37 535,113.37 535,110.52 537.59,110.52 537.59,109.14 540.82,109.14 540.82,108.13 542.77,108.13 542.77,106.32 545.61,106.32 545.61,104.53 548.33,104.53 548.33,102.63 551.67,102.63 551.67,101.99 555.73,101.99 555.73,100.24 557.84,100.24 557.84,99.78 559.13,99.78 559.13,98.94 561,98.94 561,96.51 563.43,96.51 563.43,95.74 566.06,95.74 566.06,94.77 568.6,94.77 568.6,93.59 571.61,93.59 571.61,92.29 573.55,92.29 573.55,91.5 575.44,91.5 575.44,91.1 576.72,91.1 576.72,90.35 578.59,90.35 578.59,89.61 581.59,89.61 581.59,87.87 585.16,87.87 585.16,86.61 587.42,86.61 587.42,85.34 589.52,85.34 589.52,84.05 591.28,84.05 593.22,84.05 593.22,82.8 593.84,82.8 593.84,82.53 596.1,82.53 596.1,81.75 598.36,81.75 598.36,81.03 599.95,81.03 599.95,80.68 603.2,80.68 604.85,80.68 604.85,79.81 608.37,79.81 610.31,79.81 610.31,78.84 613.73,78.84 615.57,78.84 615.57,78.36 617.75,78.36 617.75,77.7 620.93,77.7 620.93,76.92 623.59,76.92 623.59,75.85 626.56,75.85 626.56,74.19 628.16,74.19 628.16,73.49 630.67,73.49 630.67,72.58 631.9,72.58 631.9,72.33 633.67,72.33 633.67,71.91 634.77,71.91 634.77,70.8 638.14,70.8 638.14,68.68 640.46,68.68 640.46,67.61 642.55,67.61 644.83,67.61 646.36,67.61 649.3,67.61 649.3,66.98 652.69,66.98 652.69,65.71 654.25,65.71 654.25,65.48 656.43,65.48 656.43,64.86 658.69,64.86 658.69,64.53 662.23,64.53 662.23,64.24 664.06,64.24 668.14,64.24 671.8,64.2" fill="none" stroke="#2ca02c" stroke-opacity="0.78" stroke-width="0.9" stroke-linejoin="miter"/>
<polyline points="460.6,269.9 460.6,268.05 460.66,268.05 460.66,264.36 461.15,264.36 461.15,262.74 461.15,261 461.15,257.67 461.15,255.96 461.15,254 461.15,251.06 461.15,250 461.15,246.25 461.23,246.25 461.23,242.7 461.66,242.7 461.66,239.56 463.23,239.56 463.23,235.61 463.8,235.61 463.8,232.11 464.9,232.11 464.9,229.6 465.44,229.6 465.44,227.53 466.58,227.53 466.58,225.53 467.44,225.53 467.44,224.04 467.52,224.04 467.52,220.57 468.54,220.57 468.54,218.3 471.16,218.3 471.16,215.63 472,215.63 472,212.79 473.38,212.79 473.38,210.31 473.87,210.31 473.87,207.68 474.43,207.68 474.43,206.16 475.64,206.16 475.64,203.89 476.03,203.89 476.03,202.6 476.74,202.6 476.74,200.87 477.15,200.87 477.15,199.33 477.73,199.33 477.73,196.36 478.54,196.36 478.54,192.89 480.6,192.89 480.6,189.06 481.73,189.06 481.73,187.8 481.86,187.8 481.86,184.37 483.19,184.37 483.19,181.74 484.65,181.74 484.65,178.34 486.22,178.34 486.22,175.02 488.15,175.02 488.15,171.98 490.33,171.98 490.33,170.06 491.43,170.06 491.43,166.54 493.49,166.54 493.49,163.91 494.76,163.91 494.76,161.36 496.29,161.36 496.29,159.05 497.91,159.05 497.91,156.01 499.47,156.01 499.47,153.98 500.05,153.98 500.05,150.86 500.75,150.86 500.75,149.55 501.21,149.55 501.21,146.69 502.32,146.69 502.32,144.49 504.02,144.49 504.02,142.5 505.39,142.5 505.39,140.71 506.52,140.71 506.52,137.37 508.98,137.37 508.98,136.32 509.94,136.32 509.94,133.78 511.4,133.78 511.4,133.08 512.6,133.08 512.6,130.36 514.98,130.36 514.98,129.79 515.9,129.79 515.9,126.53 518.39,126.53 518.39,124.97 520.64,124.97 520.64,123.24 521.62,123.24 521.62,122.92 523.04,122.92 523.04,120.56 524.93,120.56 524.93,119.68 526.56,119.68 526.56,119.1 528.37,119.1 528.37,117.02 530.69,117.02 530.69,115.2 531.61,115.2 531.61,113.99 532.76,113.99 532.76,112.23 534.23,112.23 534.23,111.31 535.15,111.31 536.37,111.29 536.37,109.16 539.12,109.16 539.12,107.47 541.46,107.47 543.55,107.47 543.55,106.95 544.97,106.95 544.97,105.67 548.27,105.67 548.27,104.91 549.82,104.91 549.82,104.66 551.79,104.66 551.79,104.17 553.16,104.17 555.55,104.14 555.55,102.23 559.17,102.23 559.17,102.07 560.36,102.07 560.36,100.92 563.71,100.92 563.71,99.82 565.51,99.82 567.02,99.82 567.02,99.47 568.01,99.47 568.01,98.11 569.12,98.11 569.12,97.84 571.72,97.84 571.72,96.09 574.65,96.09 574.65,95.32 576.21,95.32 576.21,93.55 579.82,93.55 579.82,92 581.89,92 581.89,91.34 584.67,91.34 584.67,89.6 587.15,89.6 588.83,89.6 590.4,89.6 590.4,88.51 592.76,88.51 592.76,87.06 594.28,87.06 594.28,86.56 595.49,86.56 595.49,85.36 596.28,85.36 596.28,84.9 597.58,84.9 597.58,83.22 600.54,83.22 604.48,83.22 606.85,83.22 606.85,82.76 610.04,82.76 610.04,81.73 611.71,81.73 611.71,81.19 613.64,81.19 613.64,80.28 617.69,80.28 617.69,79.09 620.99,79.09 620.99,78.24 623.3,78.24 623.3,77.74 625.08,77.74 625.08,76.76 626.94,76.76 626.94,75.81 630.52,75.81 634.42,75.8 634.42,73.85 637.35,73.85 637.35,73.39 639.86,73.39 639.86,72.21 643.32,72.21 643.32,70.52 645.44,70.52 645.44,68.73 647.24,68.73 647.24,68.04 648.92,68.04 648.92,67.34 652.46,67.34 652.46,66.54 653.9,66.54 653.9,65.93 655.81,65.93 659.7,65.91 659.7,65.38 663.31,65.38 663.31,65.14 665,65.14 667.4,65.14 667.4,64.2 671.8,64.2" fill="none" stroke="#d62728" stroke-opacity="0.78" stroke-width="0.9" stroke-linejoin="miter"/>
<polyline points="460.6,269.9 460.63,268.53 460.63,264.55 461.09,264.55 461.09,262.67 461.09,259.57 461.09,257.59 461.09,254.12 461.09,252.71 461.09,250.48 461.09,248.65 461.09,247.22 461.15,247.22 461.15,244.5 461.51,244.5 461.51,241.5 462.15,241.5 462.15,240.08 462.34,240.08 462.36,238.39 462.36,234.62 464.31,234.62 464.31,232.01 464.31,229.06 464.31,227.93 465.1,227.93 465.1,225.35 466.29,225.35 466.29,224.18 466.94,224.18 466.94,220.86 468.71,220.86 468.71,218.59 469.64,218.59 469.64,216.91 470.13,216.91 470.13,215.9 471.16,215.9 471.16,212.44 472.25,212.44 472.25,211.36 472.64,211.36 472.64,208.29 473.97,208.29 473.97,207.04 474.43,207.04 474.43,204.99 476.01,204.99 476.01,203.06 477.65,203.06 477.65,200.96 479.15,200.96 479.15,199.52 479.26,199.52 479.26,197.19 480.23,197.19 480.23,193.22 481.18,193.22 481.18,192.06 481.66,192.06 481.66,189.5 482.69,189.5 482.69,188.79 483.81,188.79 483.81,187.08 485.83,187.08 485.83,185.28 487.02,185.28 487.02,183.55 487.72,183.55 487.72,181.68 488.05,181.68 488.05,179.2 488.88,179.2 488.88,177.83 490.13,177.83 490.13,176.17 491.27,176.17 491.27,173.49 494.31,173.49 494.31,171.2 497.55,171.2 497.55,169.34 498.81,169.34 498.81,168.02 499.54,168.02 499.54,166.62 500.45,166.62 500.45,164.78 500.45,163.22 501.68,163.22 501.68,161.4 502.56,161.4 502.56,158.94 504.24,158.94 504.24,157.25 505.99,157.25 505.99,155.21 509.04,155.21 509.04,152.38 511.44,152.38 511.44,150.82 513.1,150.82 513.1,147.83 513.44,147.83 513.44,145.18 515.69,145.18 515.69,142.14 516.46,142.14 516.46,140.53 517.31,140.53 517.31,139.01 518.61,139.01 518.61,137.23 519.17,137.23 519.17,134.24 520.29,134.24 520.29,132.96 521.21,132.96 521.21,130.57 522.6,130.57 522.6,128.94 524.13,128.94 524.13,127.52 525.88,127.52 525.88,125.37 526.89,125.37 526.89,124.01 527.53,124.01 527.53,121.03 529.31,121.03 529.31,119.71 530.48,119.71 530.48,118.25 533.22,118.25 533.22,115.98 536.48,115.98 536.48,113.86 538.74,113.86 538.74,112.3 540.4,112.3 540.4,111.92 542.46,111.92 542.46,109.4 544.9,109.4 546.16,109.4 548.93,109.36 548.93,108.33 550.1,108.33 550.1,105.55 553.39,105.55 553.39,103.38 556.25,103.38 557.75,103.38 557.75,102.47 561.06,102.47 561.06,101.06 562.84,101.06 562.84,99.29 565.17,99.29 565.17,97.87 568.36,97.87 568.36,97.14 570.89,97.14 570.89,95.31 574.52,95.31 574.52,94.49 576.18,94.49 576.18,94.28 577.29,94.28 577.29,91.55 580.51,91.55 580.51,87.88 582.56,87.88 582.56,85.53 585.62,85.53 585.62,84.53 587.96,84.53 587.96,83.25 589.71,83.25 589.71,82.89 591.14,82.89 591.14,81.35 594.87,81.35 594.87,80.74 598.96,80.74 598.96,79.43 601.33,79.43 601.33,78.88 605.16,78.88 606.47,78.88 606.47,77.55 609.75,77.55 609.75,77.35 612.13,77.35 614.54,77.3 614.54,75.63 615.84,75.63 615.84,75.03 618.29,75.03 618.29,74.91 620.56,74.91 620.56,74.57 622.26,74.57 622.26,74.22 624,74.22 624,72.96 625.6,72.96 625.6,72.66 626.88,72.66 628.14,72.66 631.29,72.66 631.29,72.56 634.78,72.56 634.78,71.6 636.98,71.6 636.98,70.04 639.67,70.04 639.67,69.3 642.82,69.3 642.82,68.31 645.84,68.31 648.18,68.31 648.18,67.68 651.52,67.68 653.77,67.68 653.77,67.07 655.54,67.07 655.54,66.77 657.1,66.77 657.1,66.23 660.78,66.23 660.78,65.32 662.57,65.32 664.13,65.32 664.13,65.12 666.77,65.12 666.77,64.66 669.75,64.66 669.75,64.2 671.8,64.2" fill="none" stroke="#9467bd" stroke-opacity="0.78" stroke-width="0.9" stroke-linejoin="miter"/>
<rect x="450.3" y="53.6" width="232.1" height="226.7" fill="none" stroke="#a4a4a4" stroke-width="1.15"/>
<line x1="460.6" y1="280.3" x2="460.6" y2="282.1" stroke="#777" stroke-width="0.75"/>
<line x1="450.3" y1="269.9" x2="448.5" y2="269.9" stroke="#777" stroke-width="0.75"/>
<text x="460.6" y="288.1" font-size="4.85" text-anchor="middle" fill="#363636" textLength="7.28" lengthAdjust="spacingAndGlyphs">0.0</text>
<text x="447.1" y="272.1" font-size="4.85" text-anchor="end" fill="#363636" textLength="7.28" lengthAdjust="spacingAndGlyphs">0.0</text>
<line x1="502.84" y1="280.3" x2="502.84" y2="282.1" stroke="#777" stroke-width="0.75"/>
<line x1="450.3" y1="228.76" x2="448.5" y2="228.76" stroke="#777" stroke-width="0.75"/>
<text x="502.84" y="288.1" font-size="4.85" text-anchor="middle" fill="#363636" textLength="7.28" lengthAdjust="spacingAndGlyphs">0.2</text>
<text x="447.1" y="230.96" font-size="4.85" text-anchor="end" fill="#363636" textLength="7.28" lengthAdjust="spacingAndGlyphs">0.2</text>
<line x1="545.08" y1="280.3" x2="545.08" y2="282.1" stroke="#777" stroke-width="0.75"/>
<line x1="450.3" y1="187.62" x2="448.5" y2="187.62" stroke="#777" stroke-width="0.75"/>
<text x="545.08" y="288.1" font-size="4.85" text-anchor="middle" fill="#363636" textLength="7.28" lengthAdjust="spacingAndGlyphs">0.4</text>
<text x="447.1" y="189.82" font-size="4.85" text-anchor="end" fill="#363636" textLength="7.28" lengthAdjust="spacingAndGlyphs">0.4</text>
<line x1="587.32" y1="280.3" x2="587.32" y2="282.1" stroke="#777" stroke-width="0.75"/>
<line x1="450.3" y1="146.48" x2="448.5" y2="146.48" stroke="#777" stroke-width="0.75"/>
<text x="587.32" y="288.1" font-size="4.85" text-anchor="middle" fill="#363636" textLength="7.28" lengthAdjust="spacingAndGlyphs">0.6</text>
<text x="447.1" y="148.68" font-size="4.85" text-anchor="end" fill="#363636" textLength="7.28" lengthAdjust="spacingAndGlyphs">0.6</text>
<line x1="629.56" y1="280.3" x2="629.56" y2="282.1" stroke="#777" stroke-width="0.75"/>
<line x1="450.3" y1="105.34" x2="448.5" y2="105.34" stroke="#777" stroke-width="0.75"/>
<text x="629.56" y="288.1" font-size="4.85" text-anchor="middle" fill="#363636" textLength="7.28" lengthAdjust="spacingAndGlyphs">0.8</text>
<text x="447.1" y="107.54" font-size="4.85" text-anchor="end" fill="#363636" textLength="7.28" lengthAdjust="spacingAndGlyphs">0.8</text>
<line x1="671.8" y1="280.3" x2="671.8" y2="282.1" stroke="#777" stroke-width="0.75"/>
<line x1="450.3" y1="64.2" x2="448.5" y2="64.2" stroke="#777" stroke-width="0.75"/>
<text x="671.8" y="288.1" font-size="4.85" text-anchor="middle" fill="#363636" textLength="7.28" lengthAdjust="spacingAndGlyphs">1.0</text>
<text x="447.1" y="66.4" font-size="4.85" text-anchor="end" fill="#363636" textLength="7.28" lengthAdjust="spacingAndGlyphs">1.0</text>
<text x="566.35" y="293.6" font-size="4.85" text-anchor="middle" fill="#363636" textLength="42.57" lengthAdjust="spacingAndGlyphs">False Positive Rate</text>
<text transform="translate(436.5,166.95) rotate(-90)" x="0" y="0" font-size="4.85" text-anchor="middle" fill="#363636" textLength="40.8" lengthAdjust="spacingAndGlyphs">True Positive Rate</text>
<text x="566.35" y="50.9" font-size="5.83" text-anchor="middle" fill="#1a1a1a" textLength="42.21" lengthAdjust="spacingAndGlyphs">OS-5 Validation</text>
<rect x="607.72" y="242.21" width="72.39" height="35.8" rx="1" fill="#fff" fill-opacity="0.85" stroke="#e0e0e0" stroke-width="0.6"/>
<line x1="609.55" y1="246.11" x2="618.71" y2="246.11" stroke="#1f77b4" stroke-opacity="0.5" stroke-width="1.6"/>
<text x="622.98" y="247.78" font-size="4.85" fill="#363636" textLength="25.33" lengthAdjust="spacingAndGlyphs">LR(0.7720)</text>
<line x1="609.55" y1="253.06" x2="618.71" y2="253.06" stroke="#ff7f0e" stroke-opacity="0.5" stroke-width="1.6"/>
<text x="622.98" y="254.73" font-size="4.85" fill="#363636" textLength="37.56" lengthAdjust="spacingAndGlyphs">LR(CSL)(0.7728)</text>
<line x1="609.55" y1="260.01" x2="618.71" y2="260.01" stroke="#2ca02c" stroke-opacity="0.5" stroke-width="1.6"/>
<text x="622.98" y="261.68" font-size="4.85" fill="#363636" textLength="43.07" lengthAdjust="spacingAndGlyphs">LinearSVC(0.7681)</text>
<line x1="609.55" y1="266.96" x2="618.71" y2="266.96" stroke="#d62728" stroke-opacity="0.5" stroke-width="1.6"/>
<text x="622.98" y="268.63" font-size="4.85" fill="#363636" textLength="55.3" lengthAdjust="spacingAndGlyphs">LinearSVC(CSL)(0.7592)</text>
<line x1="609.55" y1="273.91" x2="618.71" y2="273.91" stroke="#9467bd" stroke-opacity="0.5" stroke-width="1.6"/>
<text x="622.98" y="275.58" font-size="4.85" fill="#363636" textLength="27.97" lengthAdjust="spacingAndGlyphs">Lgb(0.7516)</text>
<line x1="110.4" y1="524.7" x2="321.7" y2="319.4" stroke="#1f77b4" stroke-opacity="0.8" stroke-width="1.05" stroke-dasharray="2.55 1.1"/>
<polyline points="110.4,524.7 110.4,520.83 110.54,520.83 110.54,516.97 111.26,516.97 111.26,515.12 111.57,515.12 111.6,511.36 111.6,508.53 111.6,504.39 111.6,503.03 111.6,500.59 111.6,498.9 111.6,496.81 111.6,494.58 111.6,492.47 112.64,492.47 112.64,490.99 112.74,490.99 112.74,489.65 112.74,488.02 112.85,488.02 112.85,484.86 113.31,484.86 113.31,483.32 113.31,480.09 113.58,480.09 113.58,476.4 114.07,476.4 114.07,475.28 114.07,472.32 114.76,472.32 114.76,469.32 115.17,469.32 115.17,466.47 115.85,466.47 115.85,463.44 116.09,463.44 116.09,460.73 116.72,460.73 116.72,456.8 117.05,456.8 117.05,453.18 118.12,453.18 118.12,450.45 119.15,450.45 119.15,448.26 119.15,445.55 119.15,442.97 119.15,441.8 119.55,441.8 119.55,438.17 120.51,438.17 120.51,436.34 121.46,436.34 121.46,433.08 122.12,433.08 122.12,429.95 123.59,429.95 123.59,428.86 124.18,428.86 124.18,426.63 125.22,426.63 125.22,424.43 125.4,424.43 125.4,423.18 125.85,423.18 125.85,421.37 126.33,421.37 126.33,419.58 127.17,419.58 127.17,418.53 127.7,418.53 127.7,416.27 128.86,416.27 128.86,415.11 128.86,412.62 129.78,412.62 129.78,411.32 130.55,411.32 130.55,409.47 131,409.47 131,407.32 131.73,407.32 131.73,405.62 132.15,405.62 132.15,404.11 133.82,404.11 133.82,401.46 135.01,401.46 135.01,399.09 135.83,399.09 135.83,396.44 137.28,396.44 137.28,394.07 137.53,394.07 137.53,392.59 139.18,392.59 139.18,390.55 139.95,390.55 139.95,389 139.95,387.39 140.92,387.39 140.92,384.94 144.2,384.94 144.2,383.53 146.02,383.53 147.45,383.53 147.45,382.72 150.13,382.72 150.13,380.11 151.62,380.11 151.62,378.3 152.95,378.3 152.95,374.55 154.64,374.55 154.64,371.38 155.45,371.38 155.45,367.73 156.26,367.73 156.26,366.5 156.83,366.5 156.83,363.4 158.19,363.4 158.19,361.77 160.4,361.77 160.4,360.11 162.72,360.11 162.72,358.71 164.37,358.71 164.37,356.31 166.28,356.31 166.28,353.77 169.17,353.77 169.17,351.53 170.06,351.53 170.06,350.11 171.25,350.11 171.25,350.04 173.02,350.04 173.02,347.69 175.65,347.69 175.65,345.93 176.95,345.93 176.95,344.32 180.76,344.32 180.76,343.55 181.72,343.55 181.72,342.36 182.76,342.36 182.76,341.77 183.7,341.77 183.7,341.47 185.13,341.47 185.13,339.91 188.22,339.91 188.22,339.81 189.35,339.81 189.35,339.55 190.89,339.55 190.89,339.14 192.56,339.14 192.56,338.3 194.66,338.3 194.66,338.11 196.97,338.11 196.97,337.34 198.71,337.34 198.71,336.42 201.52,336.42 201.52,335.8 204.86,335.8 204.86,335.68 206.16,335.68 206.16,335.04 207.49,335.04 207.49,334.05 210.44,334.05 212.62,334.05 212.62,333.02 216.36,333.02 216.36,332.83 219.15,332.83 219.15,330.29 220.14,330.29 220.14,329.69 222.45,329.69 222.45,328.43 225.47,328.43 228.17,328.43 228.17,328.23 230.35,328.23 230.35,327.47 232.32,327.47 232.32,327.06 234.81,327.06 234.81,326.39 236.23,326.39 240.06,326.39 243.87,326.39 245.44,326.39 245.44,325.07 247.47,325.07 249.43,325.07 251.42,325.07 252.7,325.07 255.22,325.07 258.5,325.07 261.57,325.07 263.03,325.07 265.39,325.07 269.43,325.07 272.89,325.07 275.46,325.07 275.46,324.61 277.18,324.61 277.18,324.24 278.78,324.24 278.78,322.93 281.97,322.93 285.43,322.93 287.15,322.93 287.15,322.19 290.96,322.19 294.74,322.19 296.43,322.19 296.43,321.89 298.91,321.89 301.07,321.85 301.07,320.91 302.58,320.91 302.58,320.83 305.42,320.83 307.55,320.83 309.79,320.83 309.79,319.59 313.41,319.59 313.41,319.37 314.83,319.37 317.48,319.37 318.63,319.37 321.7,319.37" fill="none" stroke="#1f77b4" stroke-opacity="0.78" stroke-width="0.9" stroke-linejoin="miter"/>
<polyline points="110.4,524.7 110.45,523.15 110.45,520.61 110.78,520.61 110.78,518.9 110.78,516.26 111.32,516.26 111.32,513.64 111.32,511.44 111.32,508.58 111.32,506.81 111.32,505.05 111.32,501.7 111.32,497.93 111.32,495.87 111.32,493.01 111.32,491.4 111.32,489.91 111.32,486.01 112,486.01 112,483.62 112.69,483.62 112.69,481.1 113.13,481.1 113.13,479.34 113.13,477.61 113.13,474.13 113.27,474.13 113.27,470.28 113.57,470.28 113.57,467.1 114.44,467.1 114.44,463.89 115.66,463.89 115.66,462.6 116.65,462.6 116.65,460.88 116.65,456.92 116.65,454.81 117.1,454.81 117.1,452.52 118.38,452.52 118.38,450.1 118.38,448.87 118.38,444.8 118.38,442.53 119.37,442.53 119.37,439.37 120.53,439.37 120.53,437.87 121.54,437.87 121.54,435.06 122.57,435.06 122.59,433.4 122.59,429.5 123.29,429.5 123.29,427.59 124.29,427.59 124.29,426.4 124.91,426.4 124.91,425.09 125.03,425.09 125.03,423.38 126.62,423.38 126.62,420.55 128.07,420.55 128.07,416.84 130.03,416.84 130.03,414.17 130.03,411.48 130.18,411.48 130.18,407.98 131.74,407.98 131.74,406.22 132.15,406.22 132.15,402.59 133.21,402.59 133.21,399.37 134.68,399.37 134.68,396.76 137.33,396.76 137.37,395.49 137.37,393.75 137.97,393.75 137.97,392.07 137.97,391.1 138.96,391.1 138.96,387.06 140.19,387.06 140.19,385.09 142.98,385.09 142.98,383.01 146.27,383.01 146.27,382.51 148.91,382.51 148.91,382.19 150.62,382.19 150.62,378.97 152.38,378.97 152.38,376.62 154.33,376.62 154.33,374.52 155.5,374.52 155.5,372.61 156.1,372.61 156.1,369.94 156.66,369.94 156.66,368.57 156.66,365.56 157,365.56 157,362.86 158.02,362.86 158.02,360.38 159.75,360.38 161.71,360.38 161.71,358.22 162.83,358.22 162.83,357.59 164.27,357.59 164.27,356.59 165.11,356.59 165.11,354.72 166.67,354.72 166.67,353.34 167.32,353.34 167.32,352.67 168.77,352.67 168.77,350.47 170.43,350.47 170.43,348.68 170.79,348.68 170.79,347.31 171.53,347.31 171.53,344.91 173.94,344.91 173.94,343.56 176.38,343.56 176.38,342.41 179.95,342.41 179.95,341.54 183.35,341.54 183.35,341 185.73,341 185.73,340.5 186.87,340.5 186.87,339.33 189.93,339.33 189.93,338.46 191.56,338.46 191.56,338.1 192.71,338.1 192.71,337.08 194.72,337.08 194.72,335.08 195.81,335.08 198.73,335.08 200.08,335.08 203.02,335.08 203.02,334.92 207.04,334.92 207.04,334.42 208.99,334.42 211.74,334.41 211.74,333.44 212.89,333.44 215.15,333.44 217.09,333.42 217.09,333.09 218.34,333.09 218.34,332.21 219.09,332.21 219.09,330.01 220.38,330.01 220.38,328.29 222.09,328.29 222.09,327.55 224.39,327.55 227.1,327.55 227.1,327.29 228.83,327.29 230.03,327.29 233.26,327.28 236.85,327.23 238.65,327.23 240.9,327.23 244.93,327.23 246.69,327.23 246.69,326.01 249.12,326.01 249.12,325.65 252.93,325.65 256.35,325.65 256.35,325.37 259.46,325.37 262.64,325.37 262.64,325.23 264.43,325.23 267.39,325.23 267.39,323.97 270.98,323.97 272.06,323.97 274.08,323.97 275.37,323.97 275.37,323.32 277.89,323.32 277.89,321.94 281.81,321.94 285.18,321.94 289.2,321.94 289.2,321.86 292.43,321.86 292.43,321.41 295.46,321.41 298.63,321.41 298.63,320.47 300.53,320.47 302.39,320.47 305.61,320.47 307.31,320.47 309.53,320.47 313.52,320.47 313.52,320 316.41,320 316.41,319.65 318.31,319.65 318.31,319.44 320.19,319.44 321.7,319.4" fill="none" stroke="#ff7f0e" stroke-opacity="0.78" stroke-width="0.9" stroke-linejoin="miter"/>
<polyline points="110.4,524.7 110.4,520.67 110.4,516.51 110.4,514.9 110.4,512.78 110.4,508.97 110.4,506.93 110.4,504.01 110.4,500.09 110.4,496.84 110.4,493.96 110.4,491.95 110.4,489.09 110.4,485.13 110.4,482.32 111,482.32 111.02,479.1 111.02,475.08 111.02,473.07 111.02,470.07 111.78,470.07 111.78,468.54 111.78,466.95 111.78,465.75 111.78,461.81 111.78,459.21 111.91,459.21 111.91,457.48 113.38,457.48 113.38,453.62 113.95,453.62 113.95,450.71 113.95,448.84 114.64,448.84 114.64,446.49 115.16,446.49 115.16,443.38 115.56,443.38 115.56,439.29 116.02,439.29 116.02,437.26 116.78,437.26 116.78,433.32 117.25,433.32 117.25,429.5 118.53,429.5 118.53,428.15 118.65,428.15 118.65,424.37 119.29,424.37 119.29,422.19 119.41,422.19 119.41,420.38 120.59,420.38 120.59,419.34 121.14,419.34 121.14,417.14 122.24,417.14 122.24,415.58 123.21,415.58 123.21,412.32 123.21,408.72 123.42,408.72 123.42,404.99 124.94,404.99 124.94,402.35 124.94,400.36 126.19,400.36 126.19,397.51 127.97,397.51 127.97,395.31 129.05,395.31 129.05,393.79 130.6,393.79 130.6,390.29 131.91,390.29 131.91,386.52 133.25,386.52 133.25,385.53 133.82,385.53 133.82,383.38 133.9,383.38 133.9,381.82 134.17,381.82 134.17,380.04 134.81,380.04 134.81,378.73 134.81,377.38 134.81,375.7 135.12,375.7 135.12,373.77 135.12,372.04 135.5,372.04 135.5,370.56 136.33,370.56 136.33,368.89 137.77,368.89 137.77,366.35 140.63,366.35 141.39,366.35 141.39,365.22 142.13,365.22 142.13,364.88 143.98,364.88 143.98,362.34 146.22,362.34 146.22,359.64 148.22,359.64 148.22,357.92 148.69,357.92 148.69,355.93 148.81,355.93 148.81,355.27 150.62,355.27 150.62,354.87 154,354.87 154,352.65 155.38,352.65 155.38,349.89 156.05,349.89 156.05,348.8 156.36,348.8 156.36,346.71 159.46,346.71 159.46,344.6 162.11,344.6 162.11,342.16 165.03,342.16 165.03,341.02 166.05,341.02 166.05,339.51 167.04,339.51 167.04,339.27 168.51,339.27 168.51,337.58 169.98,337.58 169.98,335.56 172.74,335.56 172.74,334.25 176.2,334.25 176.2,331.9 178.6,331.9 178.6,331.56 181.24,331.56 181.24,331.16 182.77,331.16 186.43,331.16 186.43,330.16 189.66,330.16 189.66,328.97 193.14,328.97 193.14,328.28 196.88,328.28 200.36,328.28 200.36,327.48 201.74,327.48 201.74,326.7 202.95,326.7 202.95,325.81 204.49,325.81 204.49,324.34 206.85,324.34 206.85,323.69 209.56,323.69 209.56,323.31 213.34,323.31 213.34,322.96 216.71,322.96 216.71,322 217.72,322 221.3,322 221.3,321.88 224.91,321.88 224.91,321.81 226.51,321.81 226.51,320.89 229.1,320.89 231.44,320.89 234.43,320.89 238.51,320.89 242.48,320.89 246.04,320.89 249.11,320.89 250.87,320.89 252.08,320.89 253.2,320.89 253.2,320.79 255.2,320.79 255.2,320.5 257.26,320.5 258.89,320.5 261.02,320.5 264.6,320.5 264.6,319.28 267.57,319.28 271.6,319.28 275.61,319.28 278.25,319.28 280.03,319.28 282.04,319.28 286.19,319.28 286.19,319.01 289.78,319.01 289.78,318.88 293.32,318.88 293.32,318.76 295.94,318.76 298.16,318.76 302.06,318.76 305.07,318.76 306.26,318.76 309.4,318.76 311.56,318.76 312.86,318.76 314.38,318.76 316.1,318.76 318.61,318.76 319.71,318.76 321.7,318.76" fill="none" stroke="#2ca02c" stroke-opacity="0.78" stroke-width="0.9" stroke-linejoin="miter"/>
<polyline points="110.4,524.7 110.4,520.77 110.4,519.47 110.4,516.59 110.75,516.59 110.75,515.14 110.75,513.5 110.75,511.04 110.75,509.92 110.75,507.57 110.75,504.93 110.75,503.71 110.75,500.23 111.07,500.23 111.07,497.25 111.15,497.25 111.15,493.18 111.35,493.18 111.35,490.99 111.35,488.2 111.35,486.92 111.35,484.4 111.46,484.4 111.46,481.95 111.96,481.95 111.96,478.9 111.96,476.84 111.96,473.25 111.96,471.9 111.96,470.75 111.96,467.14 111.96,465.07 111.96,463.08 111.96,460.59 112.75,460.59 112.75,459.27 113.25,459.27 113.25,455.84 113.91,455.84 113.91,454.18 114.84,454.18 114.84,451.32 114.84,447.45 115.08,447.45 115.08,445.86 115.16,445.86 115.16,443.58 115.69,443.58 115.69,442.44 115.69,438.6 117.21,438.6 117.25,434.98 117.25,431.01 118.4,431.01 118.4,427.88 119.82,427.88 119.82,425.42 119.82,423.77 119.82,422.19 119.82,418.36 120.88,418.36 120.88,417.16 121.64,417.16 121.64,414.55 122.29,414.55 122.29,411.04 123.04,411.04 123.04,409.51 124.43,409.51 124.43,407.02 124.43,404.85 124.43,401.23 125.37,401.23 125.37,398.83 127.54,398.83 127.54,395.58 129.16,395.58 129.16,393.19 131.03,393.19 131.03,391.03 131.57,391.03 131.57,387.85 133.09,387.85 133.09,384.35 134.05,384.35 134.05,383.04 134.47,383.04 134.47,380.34 135.18,380.34 135.18,376.73 135.74,376.73 135.74,375.03 135.74,372.84 136.83,372.84 136.83,370.51 138.4,370.51 138.4,368.81 140.38,368.81 140.38,367.66 140.56,367.66 140.56,365.74 141.67,365.74 141.67,362.67 143.84,362.67 143.84,361.24 144.71,361.24 144.71,359.23 146.09,359.23 146.09,357.28 147.37,357.28 147.37,356.25 149.85,356.25 153.11,356.25 153.11,355.2 155.66,355.2 155.66,353.41 156.52,353.41 156.52,350.01 158.1,350.01 158.1,346.91 159.88,346.91 159.88,344.06 161.23,344.06 161.23,341.67 162.81,341.67 162.81,339.69 163.75,339.69 163.75,338.36 165.38,338.36 165.38,338.27 167.65,338.27 167.65,336.86 169.35,336.86 169.35,335.36 171.84,335.36 171.84,333.6 172.36,333.6 172.36,331.92 172.79,331.92 172.79,331.39 174.6,331.39 176.05,331.39 176.05,330.66 178.26,330.66 178.26,329.66 180.62,329.66 184.35,329.66 184.35,328.83 186.11,328.83 190.17,328.83 190.17,328.53 193.67,328.53 193.67,328.21 195.56,328.21 195.56,327.07 199.05,327.07 200.37,327.06 203.56,327.06 203.56,325.55 204.9,325.55 204.9,323.56 207.52,323.56 207.52,322.7 208.88,322.7 210.61,322.7 211.78,322.7 211.78,321.63 214.91,321.63 214.91,321.39 217.3,321.39 220.75,321.39 224.35,321.39 226.43,321.39 226.43,320.95 227.86,320.95 227.86,320.5 229.53,320.5 231.92,320.5 231.92,320.35 234.61,320.35 238.34,320.35 241.41,320.35 241.41,320.3 244.77,320.3 248.58,320.3 252.67,320.26 252.67,320.19 254.45,320.19 254.45,319.54 257.56,319.54 259.83,319.54 263.13,319.54 264.83,319.54 267.14,319.54 267.14,319.47 269.51,319.47 273.12,319.47 274.93,319.47 276.95,319.47 278.53,319.47 282.14,319.47 284.85,319.47 287.84,319.47 291.74,319.47 295.84,319.47 297.08,319.47 300.74,319.47 301.96,319.47 303.11,319.47 303.11,319.33 306.45,319.33 309.71,319.33 311.27,319.33 311.27,319.12 314.19,319.12 316.83,319.12 319.57,319.12 321.7,319.12" fill="none" stroke="#d62728" stroke-opacity="0.78" stroke-width="0.9" stroke-linejoin="miter"/>
<polyline points="110.4,524.7 110.4,521.44 110.4,517.28 110.54,517.28 110.58,515.64 110.58,512.23 110.68,512.23 110.68,510.72 110.77,510.72 110.77,507.29 111.31,507.29 111.31,504.87 111.31,503.47 111.31,500.82 111.31,498.39 111.31,496.39 111.31,493.03 111.35,489.38 111.35,487.37 111.41,487.37 111.41,484.79 112.64,484.79 112.64,480.79 112.64,478.79 112.71,478.79 112.71,477.5 113.17,477.5 113.17,474.39 113.42,474.39 113.42,470.55 115.25,470.55 115.25,467.03 116.07,467.03 116.07,463.15 116.88,463.15 116.88,462.01 117.7,462.01 117.7,460.58 118.13,460.58 118.13,458.17 119.31,458.17 119.31,456.76 120.02,456.76 120.02,454.07 120.02,451.38 120.07,450.14 120.07,447.42 121.52,447.42 121.52,444.52 122.61,444.52 122.61,442.06 122.61,439.56 122.61,438.22 123.19,438.22 123.19,436.05 125.16,436.05 125.16,434.09 125.32,434.09 125.32,431.88 125.84,431.88 125.84,430.07 126.73,430.07 126.73,427.96 127.95,427.96 127.95,424.36 129.97,424.36 129.97,421.35 131.23,421.35 131.23,418.9 132.75,418.9 132.75,416.74 133.59,416.74 133.59,414.99 134.09,414.99 134.09,414.29 135.98,414.29 135.98,410.76 136.23,410.76 136.26,407.72 136.26,405 136.63,405 136.63,403.36 139.4,403.36 139.4,400.83 142.37,400.83 142.37,400.2 144.24,400.2 144.24,398.04 144.37,398.04 144.37,394.77 144.76,394.77 144.76,392.29 144.91,392.29 144.91,391.03 144.91,388.41 145.98,388.41 145.98,385.97 148.2,385.97 148.2,384.48 149,384.48 149,383.81 150.03,383.81 150.03,381.49 153.08,381.49 153.08,378.94 154.19,378.94 154.19,375.39 155.74,375.39 155.74,372 156.7,372 156.7,370.57 157.1,370.57 157.1,367.91 157.44,367.91 157.44,365.42 158.77,365.42 158.77,363.08 161.03,363.08 161.03,361.43 163.41,361.43 166.47,361.43 170.15,361.43 173.79,361.43 173.79,360.96 173.94,360.96 173.94,359.49 174.03,359.49 174.03,356.26 176.09,356.26 176.09,355.26 177.59,355.26 177.59,353.98 179.13,353.98 179.13,353.65 182.11,353.65 182.11,353.56 183.9,353.56 183.9,352.5 185.64,352.5 185.64,349.91 188.89,349.91 188.89,347.84 190.96,347.84 190.96,344.58 192,344.58 192,342.32 193.62,342.32 193.62,341.81 195.13,341.81 195.13,340.27 198.15,340.27 198.15,339.13 199.55,339.13 199.55,337.74 200.99,337.74 202.41,337.74 202.41,337.53 204.43,337.53 204.43,336.05 207.09,336.05 207.09,334.86 210.24,334.86 210.24,332.69 212.08,332.69 212.08,332 216.3,332 216.3,331.56 219.87,331.56 223.92,331.56 225.23,331.56 227.65,331.56 230.09,331.56 232.89,331.56 235.55,331.56 235.55,331.51 239.18,331.51 239.18,329.28 241.69,329.28 245.34,329.28 246.99,329.24 246.99,328.91 250.21,328.91 250.21,327.73 251.52,327.73 251.52,326.21 251.74,326.21 254.3,326.21 257.25,326.21 259.91,326.21 259.91,326.05 262.35,326.05 266.03,326.05 267.51,326.05 268.79,326.05 271.34,326.05 271.34,325.98 273.89,325.98 277.93,325.98 277.93,325.3 281.21,325.3 281.21,324.34 283.98,324.34 283.98,324 287.01,324 288.4,324 291.33,324 291.33,323.82 294.76,323.82 296.35,323.82 296.35,323.57 298.7,323.57 301.22,323.57 301.22,323.3 303.45,323.3 305.45,323.3 305.45,323.04 307.39,323.04 307.39,322.09 309.11,322.09 309.11,321.75 311.92,321.75 311.92,321.19 312.84,321.19 312.84,320.64 314.48,320.64 314.48,320.32 317.08,320.32 317.08,319.83 319.74,319.83 319.74,319.4 321.7,319.4" fill="none" stroke="#9467bd" stroke-opacity="0.78" stroke-width="0.9" stroke-linejoin="miter"/>
<rect x="100.2" y="309.5" width="231.8" height="225.7" fill="none" stroke="#a4a4a4" stroke-width="1.15"/>
<line x1="110.4" y1="535.2" x2="110.4" y2="537" stroke="#777" stroke-width="0.75"/>
<line x1="100.2" y1="524.7" x2="98.4" y2="524.7" stroke="#777" stroke-width="0.75"/>
<text x="110.4" y="543" font-size="4.85" text-anchor="middle" fill="#363636" textLength="7.28" lengthAdjust="spacingAndGlyphs">0.0</text>
<text x="97" y="526.9" font-size="4.85" text-anchor="end" fill="#363636" textLength="7.28" lengthAdjust="spacingAndGlyphs">0.0</text>
<line x1="152.66" y1="535.2" x2="152.66" y2="537" stroke="#777" stroke-width="0.75"/>
<line x1="100.2" y1="483.64" x2="98.4" y2="483.64" stroke="#777" stroke-width="0.75"/>
<text x="152.66" y="543" font-size="4.85" text-anchor="middle" fill="#363636" textLength="7.28" lengthAdjust="spacingAndGlyphs">0.2</text>
<text x="97" y="485.84" font-size="4.85" text-anchor="end" fill="#363636" textLength="7.28" lengthAdjust="spacingAndGlyphs">0.2</text>
<line x1="194.92" y1="535.2" x2="194.92" y2="537" stroke="#777" stroke-width="0.75"/>
<line x1="100.2" y1="442.58" x2="98.4" y2="442.58" stroke="#777" stroke-width="0.75"/>
<text x="194.92" y="543" font-size="4.85" text-anchor="middle" fill="#363636" textLength="7.28" lengthAdjust="spacingAndGlyphs">0.4</text>
<text x="97" y="444.78" font-size="4.85" text-anchor="end" fill="#363636" textLength="7.28" lengthAdjust="spacingAndGlyphs">0.4</text>
<line x1="237.18" y1="535.2" x2="237.18" y2="537" stroke="#777" stroke-width="0.75"/>
<line x1="100.2" y1="401.52" x2="98.4" y2="401.52" stroke="#777" stroke-width="0.75"/>
<text x="237.18" y="543" font-size="4.85" text-anchor="middle" fill="#363636" textLength="7.28" lengthAdjust="spacingAndGlyphs">0.6</text>
<text x="97" y="403.72" font-size="4.85" text-anchor="end" fill="#363636" textLength="7.28" lengthAdjust="spacingAndGlyphs">0.6</text>
<line x1="279.44" y1="535.2" x2="279.44" y2="537" stroke="#777" stroke-width="0.75"/>
<line x1="100.2" y1="360.46" x2="98.4" y2="360.46" stroke="#777" stroke-width="0.75"/>
<text x="279.44" y="543" font-size="4.85" text-anchor="middle" fill="#363636" textLength="7.28" lengthAdjust="spacingAndGlyphs">0.8</text>
<text x="97" y="362.66" font-size="4.85" text-anchor="end" fill="#363636" textLength="7.28" lengthAdjust="spacingAndGlyphs">0.8</text>
<line x1="321.7" y1="535.2" x2="321.7" y2="537" stroke="#777" stroke-width="0.75"/>
<line x1="100.2" y1="319.4" x2="98.4" y2="319.4" stroke="#777" stroke-width="0.75"/>
<text x="321.7" y="543" font-size="4.85" text-anchor="middle" fill="#363636" textLength="7.28" lengthAdjust="spacingAndGlyphs">1.0</text>
<text x="97" y="321.6" font-size="4.85" text-anchor="end" fill="#363636" textLength="7.28" lengthAdjust="spacingAndGlyphs">1.0</text>
<text x="216.1" y="548.5" font-size="4.85" text-anchor="middle" fill="#363636" textLength="42.57" lengthAdjust="spacingAndGlyphs">False Positive Rate</text>
<text transform="translate(86.4,422.35) rotate(-90)" x="0" y="0" font-size="4.85" text-anchor="middle" fill="#363636" textLength="40.8" lengthAdjust="spacingAndGlyphs">True Positive Rate</text>
<text x="216.1" y="306.8" font-size="5.83" text-anchor="middle" fill="#1a1a1a" textLength="39.76" lengthAdjust="spacingAndGlyphs">CSS-5 Training</text>
<rect x="269.55" y="497.11" width="60.16" height="35.8" rx="1" fill="#fff" fill-opacity="0.85" stroke="#e0e0e0" stroke-width="0.6"/>
<line x1="271.38" y1="501.01" x2="280.54" y2="501.01" stroke="#1f77b4" stroke-opacity="0.5" stroke-width="1.6"/>
<text x="284.81" y="502.68" font-size="4.85" fill="#363636" textLength="25.33" lengthAdjust="spacingAndGlyphs">LR(0.8508)</text>
<line x1="271.38" y1="507.96" x2="280.54" y2="507.96" stroke="#ff7f0e" stroke-opacity="0.5" stroke-width="1.6"/>
<text x="284.81" y="509.63" font-size="4.85" fill="#363636" textLength="37.56" lengthAdjust="spacingAndGlyphs">LR(CSL)(0.8510)</text>
<line x1="271.38" y1="514.91" x2="280.54" y2="514.91" stroke="#2ca02c" stroke-opacity="0.5" stroke-width="1.6"/>
<text x="284.81" y="516.58" font-size="4.85" fill="#363636" textLength="27.97" lengthAdjust="spacingAndGlyphs">Lgb(0.9005)</text>
<line x1="271.38" y1="521.86" x2="280.54" y2="521.86" stroke="#d62728" stroke-opacity="0.5" stroke-width="1.6"/>
<text x="284.81" y="523.53" font-size="4.85" fill="#363636" textLength="40.2" lengthAdjust="spacingAndGlyphs">Lgb(CSL)(0.9015)</text>
<line x1="271.38" y1="528.81" x2="280.54" y2="528.81" stroke="#9467bd" stroke-opacity="0.5" stroke-width="1.6"/>
<text x="284.81" y="530.48" font-size="4.85" fill="#363636" textLength="43.07" lengthAdjust="spacingAndGlyphs">LinearSVC(0.8312)</text>
<line x1="458.9" y1="523.2" x2="669.7" y2="318.5" stroke="#1f77b4" stroke-opacity="0.8" stroke-width="1.05" stroke-dasharray="2.55 1.1"/>
<polyline points="458.9,523.2 458.9,520.48 459.02,520.48 459.02,517.4 459.08,517.4 459.08,515.71 459.18,515.71 459.18,512.65 459.18,508.59 460.61,508.59 460.61,504.43 460.61,502.62 460.61,498.95 460.61,496.01 460.61,492.96 460.61,490.26 460.61,486.74 460.73,486.74 460.73,483.64 461.29,483.64 461.29,480.73 462.62,480.73 462.62,477.69 462.95,477.69 462.95,475.26 463.77,475.26 463.77,473.19 463.91,473.19 463.91,471.75 465.37,471.75 465.37,470.44 465.53,470.44 465.53,467 466.06,467 466.06,464.79 466.77,464.79 466.77,462.34 467.92,462.34 467.92,460.84 468.56,460.84 468.56,457.31 469.8,457.31 469.8,453.43 470.77,453.43 470.77,449.57 471.67,449.57 471.67,445.87 473.2,445.87 473.2,442.05 474.11,442.05 474.11,440.3 474.66,440.3 474.66,437.08 475.06,437.08 475.06,434.1 476.17,434.1 476.17,432.16 477.68,432.16 477.68,430.48 478.17,430.48 478.17,428.08 478.67,428.08 478.67,425.32 480.66,425.32 480.66,423.47 481.93,423.47 481.93,420.97 483.63,420.97 483.63,417.84 484.18,417.84 484.18,415.14 485.95,415.14 485.95,412.09 487.21,412.09 487.21,409.2 490.04,409.2 490.04,406.14 491.16,406.14 491.16,404.76 491.48,404.76 491.48,402.05 492.03,402.05 492.03,400.48 493.15,400.48 493.15,397.37 493.32,397.37 493.32,396.29 493.76,396.29 493.76,393 495.2,393 495.2,390.67 496.34,390.67 496.34,387.75 498.49,387.75 498.49,386.26 498.83,386.26 498.83,385.31 499.77,385.31 499.77,381.73 501.3,381.73 501.3,379.19 502.63,379.19 502.63,376.68 503.08,376.68 503.08,372.71 504.41,372.71 504.41,371.05 505.91,371.05 505.91,368.91 508.74,368.91 508.74,366.57 510.45,366.57 510.45,365.17 512.58,365.17 512.58,363.25 514.17,363.25 514.17,361.01 516.76,361.01 516.76,359.33 519.04,359.33 519.04,357.5 520.75,357.5 520.75,356.55 521.73,356.55 521.73,355.1 522.67,355.1 522.67,354.59 523.97,354.59 523.97,354.01 524.92,354.01 524.92,353.57 528.26,353.57 528.26,351.87 531.3,351.87 531.3,350.16 534.13,350.16 534.13,348.47 536.45,348.47 536.45,347.48 537.61,347.48 537.61,345.35 539.73,345.35 539.73,345.28 541.4,345.28 541.4,344.1 542.71,344.1 542.71,342.38 545.28,342.38 545.28,341.34 547.38,341.34 547.38,340.8 549.26,340.8 549.26,340.53 551.25,340.53 551.25,338.64 554.38,338.64 555.93,338.64 555.93,337.76 557.57,337.76 557.57,336.86 559.91,336.86 559.91,336.61 561.22,336.61 562.42,336.59 566.38,336.54 566.38,335.26 569.03,335.26 570.64,335.26 570.64,334.71 571.55,334.71 571.55,333.77 574.89,333.77 574.89,332.58 576.65,332.58 576.65,332.22 580.17,332.22 580.17,331.7 581.31,331.7 581.31,330.54 584.44,330.54 584.44,329.83 585.35,329.83 586.81,329.83 586.81,329.66 589.68,329.66 592.89,329.65 592.89,328.84 595.08,328.84 595.08,328.5 596.23,328.5 600,328.5 600,328.06 603,328.06 603,327.64 605.95,327.64 605.95,327.17 608.29,327.17 608.29,326.61 609.82,326.61 611.11,326.61 612.58,326.58 612.58,324.96 615.07,324.96 616.53,324.96 616.53,324.81 618.51,324.81 618.51,324.43 620.68,324.43 620.68,323.88 623.12,323.88 623.12,322.98 624.57,322.98 624.57,321.72 627.6,321.72 629.98,321.72 631.69,321.72 631.69,321.47 634.75,321.47 636.3,321.47 639.49,321.47 639.49,321.05 642.47,321.05 646.13,321.05 646.13,320.47 649.01,320.47 649.01,319.66 652.91,319.66 654.34,319.66 657.98,319.66 657.98,319.36 661.35,319.36 661.35,318.98 664,318.98 664,318.79 665.34,318.79 665.34,318.5 669.7,318.5" fill="none" stroke="#1f77b4" stroke-opacity="0.78" stroke-width="0.9" stroke-linejoin="miter"/>
<polyline points="458.9,523.2 458.9,522.12 458.9,518.95 458.9,517.48 458.9,514.07 458.9,512.57 458.9,511.11 459.39,511.11 459.39,508.43 459.63,508.43 459.63,504.26 459.63,502.88 459.63,500.59 459.63,498.96 459.63,494.93 459.63,493.22 459.63,490.44 459.63,486.46 459.71,486.46 459.71,484.86 460.55,484.86 460.55,481.29 461.31,481.29 461.31,478.06 462.14,478.06 462.14,474.53 463.4,474.53 463.4,471.25 464.71,471.25 464.71,467.99 465.42,467.99 465.42,466.17 465.42,465.17 466.09,465.17 466.09,462.9 466.45,462.9 466.45,459.85 466.89,459.85 466.89,456.29 469.29,456.29 469.29,452.23 470.16,452.23 470.16,450.78 470.88,450.78 470.88,448.08 472.19,448.08 472.19,446.75 472.41,446.75 472.41,444.93 472.41,442.01 473.44,442.01 473.44,441.01 474.58,441.01 474.58,437.81 474.79,437.81 474.79,433.9 476.13,433.9 476.13,430.45 477.04,430.45 477.04,428.22 478,428.22 478,427.24 479.28,427.24 479.28,425.88 479.58,425.88 479.58,424.43 480.35,424.43 480.35,422.65 481.46,422.65 481.46,420.73 483.27,420.73 483.27,418.19 483.99,418.19 483.99,416.29 485.11,416.29 485.11,413.56 486.25,413.56 486.25,412.44 486.91,412.44 486.91,411.26 487.78,411.26 487.78,408.03 490.81,408.03 490.81,404.63 491.37,404.63 491.37,400.4 491.54,400.4 491.54,398.29 491.91,398.29 491.91,396.52 492.72,396.52 492.72,394.99 493.14,394.99 493.14,391.64 494.98,391.64 494.98,390.79 495.91,390.79 495.91,389.47 496.91,389.47 496.91,386.32 498.68,386.32 498.68,383.96 499.46,383.96 499.46,381.51 501.73,381.51 501.73,379.24 502.48,379.24 502.48,376.67 503.21,376.67 503.21,373.66 504.56,373.66 504.56,371.61 505.55,371.61 505.55,368.7 507.49,368.7 507.49,365.83 509.44,365.83 509.44,364.45 511.98,364.45 511.98,363.41 513.15,363.41 513.15,362.17 515.18,362.17 515.18,361.48 516.52,361.48 516.52,359.74 518.17,359.74 518.17,357.82 520.82,357.82 520.82,355.61 523.36,355.61 523.36,353.98 526.27,353.98 526.27,352.63 528.92,352.63 528.92,350.38 532.03,350.38 532.03,348.07 534.8,348.07 534.8,347.62 537.06,347.62 537.06,345.88 538.63,345.88 538.63,345.01 540.04,345.01 540.04,343.02 542.59,343.02 542.59,341.99 544.58,341.99 544.58,341.54 546.37,341.54 546.37,340.88 549.33,340.88 549.33,339.12 552.89,339.12 552.89,338.35 554.61,338.35 554.61,337.61 557.05,337.61 557.05,337.21 558.97,337.21 558.97,336.95 559.98,336.95 559.98,336.39 562.14,336.39 562.14,335.8 566,335.8 566,335.51 568.92,335.51 568.92,334.2 570.35,334.2 570.35,332.96 573.02,332.96 573.02,332.87 575.12,332.87 575.12,332.68 576.45,332.68 576.45,332.09 578.58,332.09 578.58,330.64 581.03,330.64 581.03,330.39 583.71,330.39 583.71,329.67 587.36,329.67 587.36,328.66 590.39,328.66 590.39,328.47 593.16,328.47 593.16,327.76 596.66,327.76 598.48,327.74 598.48,327.34 602.49,327.34 605.72,327.34 605.72,325.52 608.99,325.52 610.2,325.52 610.2,324.28 614.14,324.28 614.14,323.87 615.56,323.87 615.56,323.71 616.62,323.71 616.62,323.41 619.02,323.41 619.02,322.87 620.4,322.87 620.4,322.2 621.32,322.2 621.32,321.75 623.8,321.75 623.8,321.36 626.31,321.36 626.31,321.07 629.96,321.07 629.96,319.86 633.1,319.86 633.1,318.96 634.22,318.96 634.22,318.13 637.84,318.13 637.84,318.07 641.72,318.07 643.77,318.07 647.76,318.07 650.93,318.07 654.25,318.07 656.7,318.07 660.03,318.07 663.91,318.07 666.29,318.07 669.7,318.07" fill="none" stroke="#ff7f0e" stroke-opacity="0.78" stroke-width="0.9" stroke-linejoin="miter"/>
<polyline points="458.9,523.2 458.9,521.92 458.9,518.07 458.9,515.48 458.9,512.85 458.97,512.85 458.97,509.18 460.02,509.18 460.02,505.44 460.02,503.19 460.02,501.76 460.02,500.7 460.02,497.11 460.39,497.11 460.39,493.12 460.39,491.67 460.41,487.58 460.44,486.47 460.44,485.25 460.44,483.7 460.77,483.7 460.77,481.74 461.19,481.74 461.19,478.35 462.37,478.35 462.37,475.31 463.85,475.31 463.85,472.08 465.03,472.08 465.03,469.28 465.72,469.28 465.72,467.41 465.83,467.41 465.83,465.12 466.13,465.12 466.13,464 466.76,464 466.76,461.56 467.43,461.56 467.43,458.63 468.92,458.63 468.92,457.16 468.92,456 468.92,454.22 469.86,454.22 469.86,453.07 470.03,453.07 470.03,451.9 470.03,448.19 471.43,448.19 471.44,445.51 471.44,442.85 472.93,442.85 472.93,440.49 474.3,440.49 474.3,438.43 475.11,438.43 475.11,435.25 476.03,435.25 476.03,432.54 476.34,432.54 476.34,429.86 477.52,429.86 477.52,428.84 478.93,428.84 478.93,427.12 479.51,427.12 479.51,423.53 481.31,423.53 481.31,420.61 481.92,420.61 481.92,419 483.24,419 483.24,415.23 484.78,415.23 484.78,414.29 485.79,414.29 485.79,412.34 486.62,412.34 486.62,411.21 487.3,411.21 487.3,408.71 489.4,408.71 489.4,407.09 492.71,407.09 492.71,405.34 495.01,405.34 495.01,403.14 495.52,403.14 495.52,399.33 495.79,399.33 495.79,397.9 496.55,397.9 496.55,396.85 496.78,396.85 496.78,394.53 499.27,394.53 499.27,391.66 501.13,391.66 501.13,389.72 501.77,389.72 501.77,385.93 503.12,385.93 503.12,383.79 504.27,383.79 504.27,381.56 505.26,381.56 505.26,378.23 506.71,378.23 506.71,376.67 507.64,376.67 507.64,375.55 508.31,375.55 508.31,372.83 511.14,372.83 511.14,369.61 512.84,369.61 512.84,366.43 514.27,366.43 514.27,363.19 516.88,363.19 516.88,361.27 518.65,361.27 518.65,358.65 521.9,358.65 521.9,356.48 525.44,356.48 525.44,355.23 528.47,355.23 528.47,354.22 530.35,354.22 530.35,351.69 531.96,351.69 531.96,350.3 534.22,350.3 534.22,349.17 537.37,349.17 537.37,348.1 538.59,348.1 538.59,346.16 541.99,346.16 541.99,345.79 544.33,345.79 544.33,343.98 546.29,343.98 546.29,343.23 547.52,343.23 547.52,342.22 548.87,342.22 548.87,341.96 550.21,341.96 550.21,340.11 553.41,340.11 553.41,338.7 555.13,338.7 557.08,338.66 558.71,338.66 558.71,338.08 561.34,338.08 562.87,338.08 562.87,337.27 565.12,337.27 565.12,336.12 566.68,336.12 566.68,335.01 570.68,335.01 570.68,333.49 573.54,333.49 573.54,333.17 575.03,333.17 575.03,332.5 578.47,332.5 578.47,331.35 582.31,331.35 582.31,330.99 585.86,330.99 585.86,330.88 587.14,330.88 587.14,330.11 591.09,330.11 591.09,329.08 593.56,329.08 593.56,327.94 595.91,327.94 595.91,327.82 598.5,327.82 598.5,327.17 600.69,327.17 604.11,327.17 607.96,327.17 607.96,326.72 610.01,326.72 610.01,325.77 612.78,325.77 612.78,325.7 615.88,325.7 615.88,325.11 618.7,325.11 619.81,325.11 619.81,324.21 622.42,324.21 622.42,323.29 625.23,323.29 625.23,322.75 628.86,322.75 628.86,321.52 631.68,321.52 631.68,320.87 634.85,320.87 636.2,320.87 639.17,320.87 642.27,320.87 643.93,320.87 645.26,320.87 648.89,320.87 652.31,320.86 652.31,319.52 653.46,319.52 653.46,318.36 656.36,318.36 657.93,318.36 657.93,318.23 660.67,318.23 664.82,318.23 667.24,318.23 669.7,318.23" fill="none" stroke="#2ca02c" stroke-opacity="0.78" stroke-width="0.9" stroke-linejoin="miter"/>
<polyline points="458.9,523.2 458.9,520.38 459.1,520.38 459.1,518.48 459.46,518.48 459.46,515.4 459.46,513.78 459.46,510.71 459.6,510.71 459.6,506.75 459.88,506.75 459.88,504.13 460.6,504.13 460.6,501.03 460.6,499.07 460.6,497.8 460.6,494.92 460.6,491.49 461.96,491.49 461.96,487.84 463.51,487.84 463.51,486.46 463.78,486.46 463.78,485.11 463.78,483.47 463.96,483.47 463.96,479.77 464.96,479.77 464.96,477.85 465.71,477.85 465.71,476.1 466.1,476.1 466.1,473.49 466.71,473.49 466.71,471.66 467.52,471.66 467.52,470.26 467.7,470.26 467.7,469.02 467.7,466.62 469.18,466.62 469.18,465.19 469.42,465.19 469.42,463.21 469.86,463.21 469.86,462.07 470.31,462.07 470.31,460.42 470.49,460.42 470.49,457.62 471.92,457.62 471.92,455.48 472.27,455.48 472.27,452.83 472.92,452.83 472.92,451.73 473.65,451.73 473.65,449.41 474.77,449.41 474.77,447.84 474.77,444.08 474.87,444.08 474.87,441.81 475.76,441.81 475.76,439.76 476.02,439.76 476.02,438.52 477.21,438.52 477.21,436.08 478.08,436.08 478.08,434.84 478.51,434.84 478.51,432.06 479.4,432.06 479.4,430.15 480.78,430.15 480.78,427.73 481.81,427.73 481.81,423.64 482.67,423.64 482.67,421.29 483.65,421.29 483.65,418.24 485.48,418.24 485.48,416.4 486.39,416.4 486.39,413.5 487.88,413.5 487.88,411.26 489.99,411.26 489.99,408.46 491.7,408.46 491.7,405.01 493.83,405.01 493.83,402.31 496.26,402.31 496.26,398.98 498.42,398.98 498.42,397.48 500.98,397.48 500.98,394.96 501.75,394.96 501.75,391.97 503.25,391.97 503.25,390.16 503.31,390.16 503.31,387.38 504.03,387.38 504.03,384.73 505.03,384.73 505.03,380.92 506.27,380.92 506.27,379.55 506.27,377.11 507.66,377.11 507.66,373.11 508.75,373.11 508.75,369.38 509.99,369.38 509.99,367.23 511.14,367.23 511.14,366.69 512.68,366.69 512.68,365.33 512.96,365.33 512.96,362.87 515.35,362.87 515.35,361.44 516.37,361.44 516.37,358.59 518.66,358.59 518.66,356 520.84,356 520.84,355.03 524.36,355.03 524.36,353.68 527.76,353.68 527.76,352.04 531.11,352.04 531.11,350.79 533.8,350.79 533.8,349.63 535.54,349.63 535.54,349.18 537.67,349.18 537.67,348.27 539.08,348.27 539.08,347.55 540.16,347.55 540.16,346.8 541.32,346.8 541.32,345.46 543.29,345.46 543.29,344.11 545.7,344.11 545.7,343.58 548.08,343.58 548.08,343.36 549.24,343.36 549.24,342.88 550.46,342.88 550.46,341.55 551.79,341.55 551.79,340.58 553.54,340.58 553.54,339.67 555.82,339.67 555.82,338.94 557.94,338.94 557.94,337.56 559.24,337.56 559.24,336.72 560.16,336.72 560.16,335.84 562.19,335.84 562.19,335.41 563.53,335.41 563.53,334.72 567.54,334.72 567.54,334.23 569.56,334.23 569.56,333.93 571.33,333.93 571.33,333.58 574.94,333.58 574.94,332.76 577,332.76 577,330.99 580.42,330.99 580.42,330.36 581.95,330.36 581.95,329.79 583.52,329.79 583.52,329.5 587.13,329.5 587.13,329.19 589.02,329.19 592.09,329.19 593.86,329.19 597.48,329.19 597.48,328.75 599.82,328.75 599.82,327.71 603.13,327.71 603.13,327.29 604.61,327.29 604.61,326.84 606.11,326.84 606.11,326.75 608.36,326.75 608.36,326.16 610.67,326.16 610.67,325.07 613.9,325.07 613.9,324.33 616.48,324.33 616.48,323.13 620.18,323.13 621.58,323.13 621.58,321.81 625.14,321.81 627.87,321.81 630.22,321.81 634.31,321.81 636.9,321.81 636.9,321.46 639.59,321.46 639.59,321.16 642.31,321.16 642.31,320.11 646.13,320.11 646.13,320.01 647.9,320.01 647.9,319.25 651.56,319.25 651.56,318.73 653.54,318.73 657.38,318.73 660.9,318.73 660.9,318.56 664.48,318.56 666.31,318.56 666.31,318.5 669.7,318.5" fill="none" stroke="#d62728" stroke-opacity="0.78" stroke-width="0.9" stroke-linejoin="miter"/>
<polyline points="458.9,523.2 458.9,520.51 459.15,520.51 459.15,516.67 459.63,516.67 459.63,512.87 460.1,512.87 460.1,510.51 460.1,508.52 460.1,506.96 460.1,505.11 460.1,501.75 460.1,500.41 460.1,497.64 460.1,493.98 460.1,491.22 460.63,491.22 460.63,488.19 460.76,488.19 460.76,486.45 460.76,483.88 461.2,483.88 461.2,481.73 461.92,481.73 461.92,479.37 462.23,479.37 462.23,476.37 462.23,473.13 463.1,473.13 463.1,471.99 464.08,471.99 464.08,469.95 464.08,468 465.5,468 465.5,464.83 466.98,464.83 466.98,463.29 466.98,459.99 467.09,459.99 467.09,457.71 468.08,457.71 468.08,456.36 468.65,456.36 468.65,454.4 468.92,454.4 468.92,453.25 469.47,453.25 469.47,450.63 470.04,450.63 470.04,448.37 470.72,448.37 470.72,446.19 470.78,446.19 470.78,443.9 471.72,443.9 471.72,440.21 473.63,440.21 473.63,437.36 474.34,437.36 474.34,434.18 475.38,434.18 475.38,432.43 476.46,432.43 476.46,429.13 477.47,429.13 477.47,427.54 478.92,427.54 478.92,423.98 480.62,423.98 480.62,421.42 482.1,421.42 482.1,420.11 482.22,420.11 482.22,419.09 484.37,419.09 484.37,415.62 485.75,415.62 485.75,413.03 486.78,413.03 486.78,410.11 488.12,410.11 488.12,405.96 488.95,405.96 488.95,401.95 490.12,401.95 490.12,399.94 491,399.94 491,399.36 493.19,399.36 493.19,397.33 494.7,397.33 494.7,395.68 495.58,395.68 495.58,393 497.05,393 497.05,390.87 499.63,390.87 499.63,388.21 502.24,388.21 502.24,385.92 503.92,385.92 503.92,383.84 504.94,383.84 504.94,381.54 505.33,381.54 505.33,380.44 506.52,380.44 506.52,378.15 506.52,374.33 507.83,374.33 507.83,373.08 509.13,373.08 509.13,369.55 510.56,369.55 510.56,366.94 512.3,366.94 512.3,364.22 514.33,364.22 514.33,362.8 515.4,362.8 515.4,360.51 517.52,360.51 517.52,359.52 519.18,359.52 519.18,356.83 521.88,356.83 521.88,354.84 525.01,354.84 525.01,353.82 526.73,353.82 526.73,351.15 529.79,351.15 529.79,350.18 533.36,350.18 533.36,348.67 534.97,348.67 534.97,346.63 538.15,346.63 539.48,346.63 539.48,345.58 541.14,345.58 541.14,344.73 542,344.73 542,343.68 542.67,343.68 542.67,341.94 545.02,341.94 545.02,340.05 548.5,340.05 548.5,339.23 552.16,339.23 552.16,338.75 554.57,338.75 554.57,338.35 556.97,338.35 558.54,338.35 558.54,337.3 562.36,337.3 562.36,335.03 565.26,335.03 565.26,334.41 567.82,334.41 571.14,334.41 571.14,333.36 572.92,333.36 574.37,333.35 574.37,332.79 576.01,332.79 576.01,332.59 577.67,332.59 579.49,332.59 579.49,330.61 582.25,330.61 582.25,330.24 583.98,330.24 586.74,330.24 586.74,329.12 588.96,329.12 588.96,328.76 590.49,328.76 592.43,328.76 592.43,328.29 595.61,328.29 599.16,328.29 599.16,327.97 601.26,327.97 601.26,327.2 605.03,327.2 606.86,327.2 606.86,326.56 608.12,326.56 608.12,325.97 611.99,325.97 611.99,324.85 615.38,324.85 615.38,323.57 618.28,323.57 618.28,322.87 621.46,322.87 623.43,322.87 623.43,322.1 624.78,322.1 624.78,321.74 626.57,321.74 626.57,321.34 628.97,321.34 628.97,321.22 630.87,321.22 630.87,320.93 634.27,320.93 634.27,320.77 637.12,320.77 637.12,320.7 641.15,320.7 644.4,320.7 645.68,320.7 645.68,320.46 648.57,320.46 648.57,319.78 651.91,319.78 651.91,319.61 653.03,319.61 656.71,319.61 657.97,319.61 660.64,319.57 663.62,319.56 663.62,319.01 665.88,319.01 665.88,318.76 667.73,318.76 667.73,318.5 669.7,318.5" fill="none" stroke="#9467bd" stroke-opacity="0.78" stroke-width="0.9" stroke-linejoin="miter"/>
<rect x="448.3" y="308.6" width="231.9" height="225.3" fill="none" stroke="#a4a4a4" stroke-width="1.15"/>
<line x1="458.9" y1="533.9" x2="458.9" y2="535.7" stroke="#777" stroke-width="0.75"/>
<line x1="448.3" y1="523.2" x2="446.5" y2="523.2" stroke="#777" stroke-width="0.75"/>
<text x="458.9" y="541.7" font-size="4.85" text-anchor="middle" fill="#363636" textLength="7.28" lengthAdjust="spacingAndGlyphs">0.0</text>
<text x="445.1" y="525.4" font-size="4.85" text-anchor="end" fill="#363636" textLength="7.28" lengthAdjust="spacingAndGlyphs">0.0</text>
<line x1="501.06" y1="533.9" x2="501.06" y2="535.7" stroke="#777" stroke-width="0.75"/>
<line x1="448.3" y1="482.26" x2="446.5" y2="482.26" stroke="#777" stroke-width="0.75"/>
<text x="501.06" y="541.7" font-size="4.85" text-anchor="middle" fill="#363636" textLength="7.28" lengthAdjust="spacingAndGlyphs">0.2</text>
<text x="445.1" y="484.46" font-size="4.85" text-anchor="end" fill="#363636" textLength="7.28" lengthAdjust="spacingAndGlyphs">0.2</text>
<line x1="543.22" y1="533.9" x2="543.22" y2="535.7" stroke="#777" stroke-width="0.75"/>
<line x1="448.3" y1="441.32" x2="446.5" y2="441.32" stroke="#777" stroke-width="0.75"/>
<text x="543.22" y="541.7" font-size="4.85" text-anchor="middle" fill="#363636" textLength="7.28" lengthAdjust="spacingAndGlyphs">0.4</text>
<text x="445.1" y="443.52" font-size="4.85" text-anchor="end" fill="#363636" textLength="7.28" lengthAdjust="spacingAndGlyphs">0.4</text>
<line x1="585.38" y1="533.9" x2="585.38" y2="535.7" stroke="#777" stroke-width="0.75"/>
<line x1="448.3" y1="400.38" x2="446.5" y2="400.38" stroke="#777" stroke-width="0.75"/>
<text x="585.38" y="541.7" font-size="4.85" text-anchor="middle" fill="#363636" textLength="7.28" lengthAdjust="spacingAndGlyphs">0.6</text>
<text x="445.1" y="402.58" font-size="4.85" text-anchor="end" fill="#363636" textLength="7.28" lengthAdjust="spacingAndGlyphs">0.6</text>
<line x1="627.54" y1="533.9" x2="627.54" y2="535.7" stroke="#777" stroke-width="0.75"/>
<line x1="448.3" y1="359.44" x2="446.5" y2="359.44" stroke="#777" stroke-width="0.75"/>
<text x="627.54" y="541.7" font-size="4.85" text-anchor="middle" fill="#363636" textLength="7.28" lengthAdjust="spacingAndGlyphs">0.8</text>
<text x="445.1" y="361.64" font-size="4.85" text-anchor="end" fill="#363636" textLength="7.28" lengthAdjust="spacingAndGlyphs">0.8</text>
<line x1="669.7" y1="533.9" x2="669.7" y2="535.7" stroke="#777" stroke-width="0.75"/>
<line x1="448.3" y1="318.5" x2="446.5" y2="318.5" stroke="#777" stroke-width="0.75"/>
<text x="669.7" y="541.7" font-size="4.85" text-anchor="middle" fill="#363636" textLength="7.28" lengthAdjust="spacingAndGlyphs">1.0</text>
<text x="445.1" y="320.7" font-size="4.85" text-anchor="end" fill="#363636" textLength="7.28" lengthAdjust="spacingAndGlyphs">1.0</text>
<text x="564.25" y="547.2" font-size="4.85" text-anchor="middle" fill="#363636" textLength="42.57" lengthAdjust="spacingAndGlyphs">False Positive Rate</text>
<text transform="translate(434.5,421.25) rotate(-90)" x="0" y="0" font-size="4.85" text-anchor="middle" fill="#363636" textLength="40.8" lengthAdjust="spacingAndGlyphs">True Positive Rate</text>
<text x="564.25" y="305.9" font-size="5.83" text-anchor="middle" fill="#1a1a1a" textLength="45.21" lengthAdjust="spacingAndGlyphs">CSS-5 Validation</text>
<rect x="617.75" y="495.81" width="60.16" height="35.8" rx="1" fill="#fff" fill-opacity="0.85" stroke="#e0e0e0" stroke-width="0.6"/>
<line x1="619.58" y1="499.71" x2="628.74" y2="499.71" stroke="#1f77b4" stroke-opacity="0.5" stroke-width="1.6"/>
<text x="633.01" y="501.38" font-size="4.85" fill="#363636" textLength="25.33" lengthAdjust="spacingAndGlyphs">LR(0.8233)</text>
<line x1="619.58" y1="506.66" x2="628.74" y2="506.66" stroke="#ff7f0e" stroke-opacity="0.5" stroke-width="1.6"/>
<text x="633.01" y="508.33" font-size="4.85" fill="#363636" textLength="37.56" lengthAdjust="spacingAndGlyphs">LR(CSL)(0.8239)</text>
<line x1="619.58" y1="513.61" x2="628.74" y2="513.61" stroke="#2ca02c" stroke-opacity="0.5" stroke-width="1.6"/>
<text x="633.01" y="515.28" font-size="4.85" fill="#363636" textLength="27.97" lengthAdjust="spacingAndGlyphs">Lgb(0.8127)</text>
<line x1="619.58" y1="520.56" x2="628.74" y2="520.56" stroke="#d62728" stroke-opacity="0.5" stroke-width="1.6"/>
<text x="633.01" y="522.23" font-size="4.85" fill="#363636" textLength="40.2" lengthAdjust="spacingAndGlyphs">Lgb(CSL)(0.8123)</text>
<line x1="619.58" y1="527.51" x2="628.74" y2="527.51" stroke="#9467bd" stroke-opacity="0.5" stroke-width="1.6"/>
<text x="633.01" y="529.18" font-size="4.85" fill="#363636" textLength="43.07" lengthAdjust="spacingAndGlyphs">LinearSVC(0.8189)</text>
<line x1="115.4" y1="786.7" x2="326" y2="581.4" stroke="#1f77b4" stroke-opacity="0.8" stroke-width="1.05" stroke-dasharray="2.55 1.1"/>
<polyline points="115.4,786.7 115.42,784.23 115.42,782.31 115.49,782.31 115.49,778.27 115.69,778.27 115.69,776.15 115.87,776.15 115.87,772.36 115.93,772.36 115.93,768.52 115.93,767.09 116.22,767.09 116.22,764.61 116.56,764.61 116.56,760.56 116.56,759.16 116.56,755.1 116.56,751.46 116.56,747.66 116.56,745.19 117.49,745.19 117.49,743.27 118.28,743.27 118.28,741.87 119.14,741.87 119.14,740.4 119.74,740.4 119.74,737.86 119.74,733.75 119.74,731.38 119.94,731.38 119.94,730.17 120.61,730.17 120.61,727.41 121.01,727.41 121.01,726.11 121.21,726.11 121.21,722.48 121.87,722.48 121.87,719.86 121.87,715.78 121.96,715.78 121.96,714.05 122.68,714.05 122.68,711.5 123.73,711.5 123.73,709.37 125.96,709.37 125.96,708.64 126.75,708.64 126.75,707.39 127.79,707.39 127.79,704.07 128.27,704.07 128.27,703 129.17,703 129.17,702.41 130.15,702.41 130.15,699.75 130.15,697.68 131.56,697.68 131.56,694.57 133.24,694.57 133.24,690.83 134.69,690.83 134.69,688.04 136.32,688.04 136.32,686.98 139.61,686.98 139.61,686.32 139.61,684.48 139.61,682.37 140.71,682.37 140.71,680.3 141.06,680.3 141.06,678.64 141.81,678.64 141.81,675 143.25,675 143.25,673.83 143.25,671.81 143.25,668.3 143.25,665.52 144.26,665.52 144.26,664.81 146.55,664.81 146.55,661.33 147.82,661.33 147.82,658.52 148.81,658.52 148.81,655.5 149.28,655.5 149.28,651.53 149.81,651.53 149.81,649.51 152.77,649.51 153.99,649.51 153.99,648.22 154.52,648.22 154.52,646.56 156.99,646.56 156.99,645.79 157.82,645.79 157.82,644.69 158.22,644.69 158.22,643.5 159.33,643.5 159.33,640.88 160.58,640.88 160.58,638.6 163.29,638.6 163.29,637.77 165.3,637.77 165.3,635.97 167.94,635.97 167.94,634.34 168.54,634.34 168.54,630.87 170.43,630.87 170.43,627.32 172.52,627.32 172.52,625.42 172.73,625.42 172.73,623.6 175.24,623.6 175.24,620.86 178.02,620.86 178.02,618.18 181.12,618.18 183.75,618.18 183.75,617.76 184.98,617.76 184.98,616.87 186.39,616.87 186.39,614.49 186.83,614.49 186.83,611.13 189.14,611.13 189.14,611 190.53,611 190.53,610.29 193.9,610.29 193.9,608.91 197.01,608.91 197.01,607.19 198.37,607.19 198.37,605.76 200.83,605.76 200.83,605.22 203.69,605.22 203.69,604.75 205.05,604.75 205.05,604.49 208.45,604.49 208.45,604.39 209.86,604.39 210.34,604.39 210.34,601.17 211.76,601.17 211.76,600.09 214.41,600.09 217.17,600.09 217.17,599.96 218.44,599.96 219.98,599.96 222.39,599.96 224.17,599.96 227.19,599.96 229.17,599.96 229.17,598.88 231.54,598.88 231.54,597.69 234.28,597.69 234.28,596.3 235.84,596.3 235.84,595.53 237.47,595.53 237.47,595.18 238.49,595.18 238.49,595.09 239.81,595.09 241.85,595.09 241.85,594.12 245.37,594.12 245.37,592.79 248.36,592.79 250.07,592.78 250.07,591.74 253.13,591.74 254.76,591.74 254.76,591.14 257.86,591.14 261.91,591.12 261.91,590.39 263.5,590.39 263.5,590.09 265.53,590.09 268.41,590.09 268.41,589.18 269.13,589.18 269.13,588.73 270.34,588.73 271.57,588.73 273.01,588.73 273.01,588.65 276.3,588.65 276.3,587.71 279.04,587.71 281.67,587.71 284.21,587.71 284.21,586.84 287.97,586.84 287.97,586.07 289.75,586.07 289.75,586 291.85,586 291.85,585.41 294.34,585.41 295.5,585.41 297.1,585.41 299.97,585.41 303.23,585.41 305.49,585.41 306.99,585.41 309.86,585.41 309.86,583.51 312.93,583.51 312.93,581.85 316.44,581.85 316.44,581.32 317.93,581.32 319.87,581.32 320.96,581.32 324.55,581.32 326,581.32" fill="none" stroke="#1f77b4" stroke-opacity="0.78" stroke-width="0.9" stroke-linejoin="miter"/>
<polyline points="115.4,786.7 115.4,784.47 115.4,780.58 115.44,777.74 115.44,775.5 115.95,775.5 115.95,772.18 116.43,772.18 116.43,769.07 116.43,765.41 116.43,763.91 116.43,760.61 116.43,757.63 116.43,756.41 116.43,752.66 116.43,749 116.43,745.62 116.43,745.32 117.62,745.32 117.62,742.11 118.81,742.11 118.81,738.94 119.21,738.94 119.21,736.94 119.42,736.94 119.42,733.98 119.83,733.98 119.83,730.18 120.15,730.18 120.15,726.56 120.48,726.56 120.48,723.43 120.76,723.43 120.76,721.21 121.47,721.21 121.47,719.01 122.15,719.01 122.15,717.89 122.15,714.67 122.81,714.67 122.81,712.45 123.45,712.45 123.45,709.78 125.92,709.78 125.92,706.88 127.3,706.88 127.33,705.58 127.33,704.29 127.33,702.03 129.97,702.03 129.97,700.61 130.52,700.61 130.52,697.15 131.66,697.15 131.66,694.42 133.1,694.42 133.1,692.49 134.66,692.49 134.66,688.84 135.45,688.84 135.45,687.85 137.25,687.85 137.25,686.31 140.06,686.31 140.06,683.97 140.84,683.97 140.84,680.09 141.51,680.09 141.51,677.05 142.44,677.05 142.44,675.15 142.44,671.22 142.53,671.22 142.53,669 142.53,666.33 143.87,666.33 143.87,665.24 145.12,665.24 145.12,664.44 146.45,664.44 146.45,661.38 147.15,661.38 147.15,658.72 148.03,658.72 148.03,657.36 148.78,657.36 148.78,654.28 149.48,654.28 149.48,652.79 149.48,649.95 151.49,649.95 151.49,649.56 154.65,649.56 154.65,646.42 156.9,646.42 156.9,643.15 158.61,643.15 158.61,640.1 161.17,640.1 161.17,638.68 163.97,638.68 163.97,637.57 165.12,637.57 165.12,635.35 167.58,635.35 167.58,633.07 169.01,633.07 169.01,630.69 170.69,630.69 170.69,626.89 171.93,626.89 171.93,623.8 174.25,623.8 174.25,621.18 176.9,621.18 176.9,619.16 179.07,619.16 181.18,619.15 181.18,618.51 183.98,618.51 183.98,615.75 185.66,615.75 185.66,614.63 187.25,614.63 187.25,613.04 188.05,613.04 188.05,611.83 188.99,611.83 188.99,609.9 190.71,609.9 190.71,608.86 194.4,608.86 194.4,607.68 197.76,607.68 197.76,605.53 200.23,605.53 200.23,605.21 203.55,605.21 203.55,604.87 205.17,604.87 207.36,604.87 208.93,604.87 208.93,603.05 211.49,603.05 211.49,600.44 212.17,600.44 212.17,599.17 214.58,599.17 214.58,599.03 215.89,599.03 217,599.03 220.43,599.03 222.05,599.03 224.74,599.03 227.46,599.03 230.34,599.03 230.34,598.35 231.7,598.35 231.7,596.68 233.65,596.68 233.65,596 237.02,596 237.02,595.15 239.3,595.15 239.3,594.63 241.49,594.63 241.49,593.22 242.47,593.22 245.9,593.22 249.24,593.22 249.24,592.19 250.25,592.19 250.25,592.11 252.5,592.11 252.5,590.81 253.84,590.81 253.84,590.03 255.29,590.03 255.29,589.7 257.29,589.7 261.21,589.7 261.21,589.08 262.76,589.08 262.76,588.36 266.56,588.36 266.56,587.21 269.16,587.21 269.16,586.35 272.96,586.35 274.91,586.35 278.6,586.35 280.19,586.35 284.12,586.35 287.82,586.35 290.3,586.31 290.3,585.53 293,585.53 294.89,585.53 296.71,585.53 300.28,585.53 301.92,585.53 305.04,585.53 308.74,585.53 308.74,584.51 309.96,584.51 309.96,582.16 313.52,582.16 313.52,582.07 315.67,582.07 315.67,581.5 319.04,581.5 320.13,581.5 324.07,581.5 324.07,581.4 326,581.4" fill="none" stroke="#ff7f0e" stroke-opacity="0.78" stroke-width="0.9" stroke-linejoin="miter"/>
<polyline points="115.4,786.7 115.4,783.66 115.4,781.93 115.4,778.59 115.66,778.59 115.66,777.28 116.41,777.28 116.41,774.92 116.41,772.31 116.41,771.18 116.41,768.44 116.41,766.72 116.41,765.66 116.41,762.1 116.41,760.58 116.45,758.11 116.45,757.74 117.79,757.74 117.79,754.44 119.09,754.44 119.09,751.12 119.35,751.12 119.35,748.4 119.35,745.65 119.35,742.1 119.63,742.1 119.63,739.3 120.2,739.3 120.2,736.74 120.2,736 121.91,736 121.91,735.59 123.13,735.59 123.13,733.77 123.4,733.77 123.4,730.85 124.24,730.85 124.24,729.11 124.27,727.12 124.27,725.41 126.84,725.41 126.84,724.29 127.52,724.29 127.52,722.27 128.51,722.27 128.51,718.52 130.22,718.52 130.22,715.55 131.46,715.55 131.46,712.1 132.42,712.1 132.42,711.17 133.1,711.17 133.1,709.3 133.89,709.3 133.89,705.57 135.36,705.57 135.36,701.85 135.71,701.85 135.71,699.58 135.71,695.96 136.11,695.96 136.11,694.6 137.31,694.6 137.31,692.52 139.17,692.52 139.17,689.61 141.77,689.61 141.77,688.23 142.48,688.23 142.48,685.56 142.48,684.27 142.61,684.27 142.61,681.32 143.23,681.32 143.23,677.87 143.98,677.87 143.98,675.66 144.48,675.66 144.48,672.1 146.88,672.1 146.88,668.51 147.89,668.51 147.89,667.42 148.04,667.42 148.04,664.92 149.31,664.92 149.31,663.04 149.55,663.04 149.55,660.7 150.06,660.7 150.06,658.04 150.06,656.26 150.06,653.62 150.06,649.8 151.46,649.8 151.46,649.09 153.47,649.09 153.47,648.41 154.95,648.41 154.95,645.98 157.61,645.98 157.61,643.56 158.81,643.56 158.81,642.53 159.11,642.53 159.11,638.99 160.85,638.99 160.85,635.58 162.51,635.58 162.51,635.14 163.6,635.14 163.6,633.21 166.86,633.21 166.86,631.53 168.74,631.53 168.74,630.52 169.49,630.52 169.49,629.91 171.01,629.91 171.01,628 172.66,628 172.66,626.19 175.15,626.19 175.15,625.43 177.41,625.43 177.41,624.24 180.26,624.24 180.26,623.47 181.9,623.47 181.9,620.19 182.82,620.19 182.82,618.98 185.4,618.98 187.15,618.98 189.28,618.98 191.11,618.98 191.11,618.44 192.22,618.44 192.22,616.14 195.41,616.14 195.41,613.17 197.7,613.17 197.7,612.41 200.19,612.41 200.19,610.6 200.19,607.37 200.69,607.37 200.69,605.63 202.53,605.63 202.53,605.11 204.46,605.11 204.46,604.28 205.57,604.28 205.57,602.08 206.83,602.08 206.83,601.08 209.83,601.08 211.26,601.04 211.26,600.17 213.39,600.17 213.39,598.96 214.74,598.96 216.38,598.96 218.29,598.96 218.29,598.63 220.1,598.63 223.83,598.63 223.83,597.8 226.59,597.8 226.59,595.9 229.14,595.9 233.21,595.9 234.76,595.9 237.32,595.9 238.54,595.9 240.76,595.9 244.25,595.9 246.71,595.9 250.76,595.9 250.76,595.77 253.5,595.77 253.5,595.58 255.53,595.58 255.53,594.11 259.34,594.11 259.34,593.44 262.31,593.44 263.54,593.44 263.54,593.28 267.23,593.28 267.23,592.7 268.73,592.7 268.73,592.53 270.34,592.53 270.34,592.42 273.23,592.42 274.66,592.42 274.66,591.27 278.36,591.27 278.36,589.57 280.91,589.57 280.91,589.4 283.34,589.4 283.34,588.31 287.15,588.31 287.15,587.08 288.5,587.08 288.5,586.61 290.21,586.61 290.21,586.53 293.35,586.53 293.35,585.98 296.73,585.98 298,585.98 302.15,585.98 303.42,585.98 303.42,585.82 307.37,585.82 307.37,585.2 310.98,585.2 312.59,585.2 312.59,584.56 316.16,584.56 316.16,583.85 320.27,583.85 320.27,582.22 322.98,582.22 322.98,581.72 324.89,581.72 324.89,581.4 326,581.4" fill="none" stroke="#2ca02c" stroke-opacity="0.78" stroke-width="0.9" stroke-linejoin="miter"/>
<polyline points="115.4,786.7 115.41,785.54 115.41,783.06 115.53,783.06 115.53,779.92 115.53,777.33 115.9,777.33 115.9,776.23 116.1,776.23 116.1,772.53 116.1,769.78 116.1,768.19 116.1,764.5 116.1,763.16 116.1,760.52 116.46,760.52 116.46,757.62 116.46,754.99 116.46,753.8 116.46,752.57 116.46,750.61 116.46,746.79 116.46,745.98 118.48,745.98 118.48,743.12 118.48,741.79 118.48,738.85 118.87,738.85 118.87,737.91 120.53,737.91 120.53,735.28 122,735.28 122,732.38 122.96,732.38 122.96,729.51 124.93,729.51 124.93,727.55 125.82,727.55 125.82,726.39 127.37,726.39 127.37,723.94 128.72,723.94 128.72,722.84 129.29,722.84 129.29,718.66 130.28,718.66 130.28,714.93 130.28,712.86 130.91,712.86 130.91,711.58 131.18,711.58 131.18,708.48 131.56,708.48 131.56,706.98 131.81,706.98 131.81,705.35 134.08,705.35 134.08,702.93 134.08,699.07 134.08,694.99 134.65,694.99 134.65,692.29 137.47,692.29 137.47,689.54 140.43,689.54 140.43,687.76 142.44,687.76 142.44,685.12 142.44,681.54 143.19,681.54 143.19,677.92 144.23,677.92 144.23,676.53 144.23,674.77 144.23,671.85 145.2,671.85 145.2,669.19 146.21,669.19 146.21,665.33 146.94,665.33 146.94,663.52 147.98,663.52 147.98,661.95 148.3,661.95 148.3,658.57 149.63,658.57 149.63,655.6 151.1,655.6 151.1,652.03 151.1,650.5 151.96,650.5 151.96,648.8 153.08,648.8 153.08,646.46 153.83,646.46 153.83,645.29 154.47,645.29 154.47,643.56 156.87,643.56 156.87,641.45 158.55,641.45 158.55,638.66 160.95,638.66 160.95,636.33 162.6,636.33 162.6,633.53 164.58,633.53 164.58,631.97 165.07,631.97 165.07,631.04 166.5,631.04 166.5,629.77 169.2,629.77 169.2,629.05 170.06,629.05 170.06,627.94 171.53,627.94 171.53,626.59 172.1,626.59 172.1,624.99 174.44,624.99 175.65,624.99 177.52,624.98 177.52,624.01 180.49,624.01 180.49,623.34 181.58,623.34 181.58,622.43 183.25,622.43 183.25,620.12 185.67,620.12 185.67,618.93 186.83,618.93 186.83,617.32 189.51,617.32 189.51,615.58 191.33,615.58 191.33,614.24 194.98,614.24 194.98,611.24 196.75,611.24 196.75,609.04 197.94,609.04 197.94,607.66 200.45,607.66 200.45,605.93 201.29,605.93 201.29,604.98 204.81,604.98 204.81,603.54 207.38,603.54 207.38,601.49 210.48,601.49 210.48,599.36 213.21,599.36 214.97,599.36 219.09,599.36 221.74,599.36 223.58,599.36 225.54,599.36 225.54,599.24 227.51,599.24 227.51,597.84 228.12,597.84 228.12,597.23 231.3,597.23 231.3,596.16 234.66,596.16 237.9,596.16 237.9,595.83 241.4,595.83 243.2,595.83 243.2,595.41 247.34,595.41 247.34,595.21 249.16,595.21 249.16,594.91 250.31,594.91 250.31,593.59 251.56,593.59 253.35,593.59 253.35,593.1 254.88,593.1 258.17,593.1 258.17,591.72 261.56,591.72 261.56,590.55 265.19,590.55 266.82,590.55 266.82,589.7 270.44,589.7 270.44,589.47 273.08,589.47 273.08,589.37 275.08,589.37 278.5,589.37 278.5,589.07 280.55,589.07 280.55,587.32 282.12,587.32 282.12,586.52 284.37,586.52 286.88,586.52 290.03,586.52 292.59,586.52 295.71,586.52 297.39,586.52 300.13,586.52 302.66,586.52 303.96,586.52 303.96,586.11 306.03,586.11 309.33,586.11 309.33,585.86 311,585.86 311,584.51 314.47,584.51 314.47,582.23 315.32,582.23 315.32,581.32 316.7,581.32 316.7,581.07 320.53,581.07 322.35,581.07 326,581.07" fill="none" stroke="#d62728" stroke-opacity="0.78" stroke-width="0.9" stroke-linejoin="miter"/>
<polyline points="115.4,786.7 115.4,784.39 115.65,784.39 115.65,782.79 115.77,782.79 115.77,781.05 115.77,779.98 115.77,778.46 116.6,778.46 116.6,775.25 116.6,773.03 116.6,770.97 116.6,769.7 116.6,768.31 116.6,767.06 116.6,765.68 116.6,762.69 116.6,760.44 116.6,757.92 116.6,756.07 116.6,754.26 116.6,750.67 116.6,748.27 116.6,744.68 116.6,742.19 117.06,742.19 117.06,739.24 117.06,736.36 117.06,733.89 117.19,733.89 117.19,730.38 117.36,730.38 117.36,726.78 117.67,726.78 117.67,723.12 117.67,721.38 117.67,720.3 117.67,718.42 118.16,718.42 118.16,715 120.8,715 120.8,713.42 120.8,711.28 120.8,710.38 121.87,710.38 121.87,707.94 121.92,707.94 121.92,706.52 122.05,706.52 122.05,705.01 122.92,705.01 122.92,702.19 123.93,702.19 123.93,700.26 124.16,700.26 124.16,699.21 124.35,699.21 124.35,697.34 124.67,697.34 124.67,695.79 125.29,695.79 125.29,692.09 125.41,692.09 125.41,688.15 126.32,688.15 126.32,686.19 126.32,682.53 126.84,682.53 126.84,679.95 128.32,679.95 128.32,678.25 129.1,678.25 129.1,676.63 130.28,676.63 130.28,673.05 131.88,673.05 131.88,672.08 132.69,672.08 132.69,669.68 134.98,669.68 136.14,669.68 136.14,666.07 136.4,666.07 136.4,664.71 136.4,662.91 137.03,662.91 137.03,660.28 137.68,660.28 137.68,657.34 139.06,657.34 139.06,654.74 140.03,654.74 140.03,652.73 141.21,652.73 141.21,651.37 141.82,651.37 141.82,650.15 143.2,650.15 143.2,648.28 145.47,648.28 145.47,646.69 146.81,646.69 146.81,644.46 148.15,644.46 148.15,641.87 150.95,641.87 150.95,638.08 152.08,638.08 152.08,635.95 152.97,635.95 152.97,632.1 153.41,632.1 153.41,631.04 155.56,631.04 155.56,629.53 156.41,629.53 156.41,628.83 157.26,628.83 157.26,627.67 158.12,627.67 158.12,626.71 159.25,626.71 159.25,625.52 160.47,625.52 160.47,624.01 162.2,624.01 162.2,622.37 164.36,622.37 164.36,621.16 165.17,621.16 165.17,617.97 167.14,617.97 167.14,615.64 169.33,615.64 169.33,614.9 170.4,614.9 170.4,614.2 173.4,614.2 173.4,612.41 176.7,612.41 176.7,612.15 178.08,612.15 178.08,611.51 179.05,611.51 179.05,609.49 181.35,609.49 181.35,606.33 183.83,606.33 183.83,603.42 186.55,603.42 186.55,600.7 189.12,600.7 189.12,599.62 190.78,599.62 190.78,599.47 192.31,599.47 192.31,598.72 195.78,598.72 195.78,597.93 198.11,597.93 198.11,595.84 199.38,595.84 199.38,594.58 203.19,594.58 203.19,592.55 205.73,592.55 205.73,591.05 208.77,591.05 208.77,590.38 211.16,590.38 211.16,589.74 214.63,589.74 214.63,588.83 218.17,588.83 218.17,588.43 220.68,588.43 220.68,588.31 221.86,588.31 221.86,587.82 223.55,587.82 223.55,587.1 225.3,587.1 225.3,586.91 229.22,586.91 229.22,586.85 232.77,586.85 232.77,586.53 234.75,586.53 234.75,585.37 236.9,585.37 236.9,584.68 239.06,584.68 241.17,584.68 243.75,584.68 245.71,584.68 248.78,584.67 251.91,584.67 251.91,584.48 255.88,584.48 255.88,583.81 258.4,583.81 258.4,583.68 262.38,583.68 263.93,583.68 265.78,583.65 267.94,583.65 271.99,583.65 271.99,583.46 275.11,583.46 275.11,581.86 277.56,581.86 281.54,581.86 283.62,581.86 283.62,581.29 286.32,581.29 287.45,581.29 290.77,581.29 293.8,581.29 293.8,580.69 296.7,580.69 300.09,580.69 303.3,580.69 305.55,580.69 308.69,580.69 312.62,580.69 314.01,580.69 316.69,580.69 318.52,580.69 320.42,580.69 323.13,580.69 324.44,580.69 326,580.69" fill="none" stroke="#9467bd" stroke-opacity="0.78" stroke-width="0.9" stroke-linejoin="miter"/>
<rect x="104.6" y="571.2" width="231.8" height="226" fill="none" stroke="#a4a4a4" stroke-width="1.15"/>
<line x1="115.4" y1="797.2" x2="115.4" y2="799" stroke="#777" stroke-width="0.75"/>
<line x1="104.6" y1="786.7" x2="102.8" y2="786.7" stroke="#777" stroke-width="0.75"/>
<text x="115.4" y="805" font-size="4.85" text-anchor="middle" fill="#363636" textLength="7.28" lengthAdjust="spacingAndGlyphs">0.0</text>
<text x="101.4" y="788.9" font-size="4.85" text-anchor="end" fill="#363636" textLength="7.28" lengthAdjust="spacingAndGlyphs">0.0</text>
<line x1="157.52" y1="797.2" x2="157.52" y2="799" stroke="#777" stroke-width="0.75"/>
<line x1="104.6" y1="745.64" x2="102.8" y2="745.64" stroke="#777" stroke-width="0.75"/>
<text x="157.52" y="805" font-size="4.85" text-anchor="middle" fill="#363636" textLength="7.28" lengthAdjust="spacingAndGlyphs">0.2</text>
<text x="101.4" y="747.84" font-size="4.85" text-anchor="end" fill="#363636" textLength="7.28" lengthAdjust="spacingAndGlyphs">0.2</text>
<line x1="199.64" y1="797.2" x2="199.64" y2="799" stroke="#777" stroke-width="0.75"/>
<line x1="104.6" y1="704.58" x2="102.8" y2="704.58" stroke="#777" stroke-width="0.75"/>
<text x="199.64" y="805" font-size="4.85" text-anchor="middle" fill="#363636" textLength="7.28" lengthAdjust="spacingAndGlyphs">0.4</text>
<text x="101.4" y="706.78" font-size="4.85" text-anchor="end" fill="#363636" textLength="7.28" lengthAdjust="spacingAndGlyphs">0.4</text>
<line x1="241.76" y1="797.2" x2="241.76" y2="799" stroke="#777" stroke-width="0.75"/>
<line x1="104.6" y1="663.52" x2="102.8" y2="663.52" stroke="#777" stroke-width="0.75"/>
<text x="241.76" y="805" font-size="4.85" text-anchor="middle" fill="#363636" textLength="7.28" lengthAdjust="spacingAndGlyphs">0.6</text>
<text x="101.4" y="665.72" font-size="4.85" text-anchor="end" fill="#363636" textLength="7.28" lengthAdjust="spacingAndGlyphs">0.6</text>
<line x1="283.88" y1="797.2" x2="283.88" y2="799" stroke="#777" stroke-width="0.75"/>
<line x1="104.6" y1="622.46" x2="102.8" y2="622.46" stroke="#777" stroke-width="0.75"/>
<text x="283.88" y="805" font-size="4.85" text-anchor="middle" fill="#363636" textLength="7.28" lengthAdjust="spacingAndGlyphs">0.8</text>
<text x="101.4" y="624.66" font-size="4.85" text-anchor="end" fill="#363636" textLength="7.28" lengthAdjust="spacingAndGlyphs">0.8</text>
<line x1="326" y1="797.2" x2="326" y2="799" stroke="#777" stroke-width="0.75"/>
<line x1="104.6" y1="581.4" x2="102.8" y2="581.4" stroke="#777" stroke-width="0.75"/>
<text x="326" y="805" font-size="4.85" text-anchor="middle" fill="#363636" textLength="7.28" lengthAdjust="spacingAndGlyphs">1.0</text>
<text x="101.4" y="583.6" font-size="4.85" text-anchor="end" fill="#363636" textLength="7.28" lengthAdjust="spacingAndGlyphs">1.0</text>
<text x="220.5" y="810.5" font-size="4.85" text-anchor="middle" fill="#363636" textLength="42.57" lengthAdjust="spacingAndGlyphs">False Positive Rate</text>
<text transform="translate(90.8,684.2) rotate(-90)" x="0" y="0" font-size="4.85" text-anchor="middle" fill="#363636" textLength="40.8" lengthAdjust="spacingAndGlyphs">True Positive Rate</text>
<text x="220.5" y="568.5" font-size="5.83" text-anchor="middle" fill="#1a1a1a" textLength="39.73" lengthAdjust="spacingAndGlyphs">DFS-5 Training</text>
<rect x="261.72" y="759.11" width="72.39" height="35.8" rx="1" fill="#fff" fill-opacity="0.85" stroke="#e0e0e0" stroke-width="0.6"/>
<line x1="263.55" y1="763.01" x2="272.71" y2="763.01" stroke="#1f77b4" stroke-opacity="0.5" stroke-width="1.6"/>
<text x="276.98" y="764.68" font-size="4.85" fill="#363636" textLength="37.56" lengthAdjust="spacingAndGlyphs">LR(CSL)(0.8197)</text>
<line x1="263.55" y1="769.96" x2="272.71" y2="769.96" stroke="#ff7f0e" stroke-opacity="0.5" stroke-width="1.6"/>
<text x="276.98" y="771.63" font-size="4.85" fill="#363636" textLength="25.33" lengthAdjust="spacingAndGlyphs">LR(0.8199)</text>
<line x1="263.55" y1="776.91" x2="272.71" y2="776.91" stroke="#2ca02c" stroke-opacity="0.5" stroke-width="1.6"/>
<text x="276.98" y="778.58" font-size="4.85" fill="#363636" textLength="43.07" lengthAdjust="spacingAndGlyphs">LinearSVC(0.8050)</text>
<line x1="263.55" y1="783.86" x2="272.71" y2="783.86" stroke="#d62728" stroke-opacity="0.5" stroke-width="1.6"/>
<text x="276.98" y="785.53" font-size="4.85" fill="#363636" textLength="55.3" lengthAdjust="spacingAndGlyphs">LinearSVC(CSL)(0.8092)</text>
<line x1="263.55" y1="790.81" x2="272.71" y2="790.81" stroke="#9467bd" stroke-opacity="0.5" stroke-width="1.6"/>
<text x="276.98" y="792.48" font-size="4.85" fill="#363636" textLength="40.2" lengthAdjust="spacingAndGlyphs">Lgb(CSL)(0.8711)</text>
<line x1="462.4" y1="784.2" x2="673.8" y2="578.7" stroke="#1f77b4" stroke-opacity="0.8" stroke-width="1.05" stroke-dasharray="2.55 1.1"/>
<polyline points="462.4,784.2 462.42,781.61 462.42,779.81 462.42,777.29 462.42,775.26 462.42,772.11 462.42,768.5 462.42,764.4 462.42,760.32 462.42,758.27 462.91,758.27 462.91,755.26 463.24,755.26 463.24,751.33 463.24,747.8 463.66,747.8 463.66,744.4 464.48,744.4 464.48,742.8 465.22,742.8 465.22,740.76 465.22,739.56 465.7,739.56 465.7,735.84 466.81,735.84 466.81,733.26 466.81,731.45 467.57,731.45 467.57,729.21 468.29,729.21 468.29,726.82 470.19,726.82 470.19,723.78 472.63,723.78 472.63,720.7 472.74,720.7 472.74,717.09 473.99,717.09 473.99,713.65 474.97,713.65 474.97,711.05 476.09,711.05 476.09,708.4 476.53,708.4 476.53,705.84 477.24,705.84 477.24,704.55 477.36,704.55 477.36,702.78 478.9,702.78 478.9,699.22 480.94,699.22 480.94,696.83 483.74,696.83 483.74,695.36 484.67,695.36 484.67,694.04 485.38,694.04 485.38,691.94 486.1,691.94 486.1,689.41 486.93,689.41 486.93,685.56 488.27,685.56 488.27,682.07 489.72,682.07 489.72,679.47 490.6,679.47 490.6,675.9 491.04,675.9 491.04,673.49 491.82,673.49 491.82,670.01 492.05,670.01 492.05,669.45 493.1,669.45 493.1,668.32 493.37,668.32 493.37,666.88 494.84,666.88 494.84,664.28 495.66,664.28 495.66,662 496.92,662 496.92,658.21 498.05,658.21 498.05,656.91 498.55,656.91 498.55,655.84 499.23,655.84 499.23,654.8 500.38,654.8 500.38,651 501.87,651 501.87,650.35 502.9,650.35 502.9,646.92 504.64,646.92 504.64,643.27 506.6,643.27 506.6,641.1 508,641.1 508,639.18 509.45,639.18 509.45,638.2 509.96,638.2 509.96,635.6 511.34,635.6 511.34,633.96 512.88,633.96 512.88,633.35 514.09,633.35 514.09,631.31 515.31,631.31 515.31,629.6 515.63,629.6 515.63,626.94 517.58,626.94 517.58,626.06 519.32,626.06 519.32,624.47 521.61,624.47 521.61,623.95 522.63,623.95 522.63,622.09 524.39,622.09 524.39,621.33 526.22,621.33 526.22,619.96 529.39,619.96 529.39,619.56 533.12,619.56 533.12,618.4 534.91,618.4 534.91,615.13 537.58,615.13 537.58,614.1 538.82,614.1 538.82,613.48 540.08,613.48 540.08,612.57 540.76,612.57 540.76,611.19 542.31,611.19 542.31,610.69 545.44,610.69 545.44,609.14 549.28,609.14 549.28,606.75 552.28,606.75 552.28,605.38 554.59,605.38 554.59,603.66 558,603.66 558,602.84 559.93,602.84 559.93,601.5 563.16,601.5 563.16,601.32 565.13,601.32 565.13,600.64 569.09,600.64 569.09,599.07 572.35,599.07 572.35,598.79 573.48,598.79 573.48,598.34 574.52,598.34 574.52,597.77 575.92,597.77 575.92,597.38 579.16,597.38 579.16,596.54 581.62,596.54 581.62,596.41 583.34,596.41 583.34,595.67 584.42,595.67 584.42,594.46 588.22,594.46 588.22,594.18 591.22,594.18 592.41,594.18 592.41,593.19 594.56,593.19 596.02,593.19 596.02,592.39 598.9,592.39 602.2,592.39 602.2,591.46 605.61,591.46 605.61,590.12 606.7,590.12 606.7,589.5 609.33,589.5 609.33,588.66 611.71,588.66 611.71,588.18 614.83,588.18 614.83,588.03 617.1,588.03 617.1,587.28 619.69,587.28 619.69,585.99 622.33,585.99 622.33,585.31 624.47,585.31 624.47,584.95 626.56,584.95 626.56,583.89 628.3,583.89 628.3,582.94 630.63,582.94 630.63,581.49 634.19,581.49 634.19,580.38 637.08,580.38 637.08,580.04 640.87,580.04 640.87,579.97 643.25,579.97 643.25,579.81 644.95,579.81 644.95,579.63 647.95,579.63 651.55,579.63 651.55,579.28 654.61,579.28 654.61,579.1 658.75,579.1 658.75,578.39 661.39,578.39 663.59,578.39 663.59,578.32 664.93,578.32 668.09,578.32 670.17,578.32 672.29,578.32 673.8,578.32" fill="none" stroke="#1f77b4" stroke-opacity="0.78" stroke-width="0.9" stroke-linejoin="miter"/>
<polyline points="462.4,784.2 462.4,782.4 462.46,782.4 462.46,778.8 462.51,778.8 462.51,777.04 463.36,777.04 463.37,774.76 463.37,770.7 463.37,767.74 463.37,764.88 463.75,764.88 463.75,762.51 463.75,758.41 463.75,756.58 463.75,754.04 463.75,751.15 463.75,748.95 463.75,745.72 465.28,745.72 465.28,744.13 465.28,740.69 466.47,740.69 466.47,737.89 466.47,734.69 467.73,734.69 467.73,731.21 468.66,731.21 468.66,730.05 469.88,730.05 469.88,726.32 471.62,726.32 471.62,724.05 472.5,724.05 472.5,721.68 472.75,721.68 472.75,720.07 472.75,716.59 474.03,716.59 474.03,714.6 474.94,714.6 474.94,712.13 475.25,712.13 475.25,709.13 475.99,709.13 475.99,705.03 477.42,705.03 477.42,702.17 480.61,702.17 480.61,699.05 483.05,699.05 483.05,696.97 484.75,696.97 484.75,693.27 485.44,693.27 485.44,690.07 487.29,690.07 487.29,689.06 487.8,689.06 487.8,686.36 488.74,686.36 488.74,684.15 490.71,684.15 490.71,682.2 491.24,682.2 491.24,678.97 491.58,678.97 491.58,674.92 492.16,674.92 492.16,673.78 492.67,673.78 492.7,670.84 492.7,668.04 495.37,668.04 495.37,666.37 496.41,666.37 496.41,663.58 496.9,663.58 496.9,661.18 497.28,661.18 497.28,657.88 498.44,657.88 498.44,654.25 500.37,654.25 500.37,653.66 501.47,653.66 501.47,651.07 503.67,651.07 503.67,648.88 505.5,648.88 505.5,646.95 505.94,646.95 505.94,644.16 507.46,644.16 507.46,642.15 509.03,642.15 509.03,640.95 509.15,640.95 509.15,638.08 511.05,638.08 511.05,634.46 513.05,634.46 513.05,631.69 515.35,631.69 515.35,630.09 516.92,630.09 516.92,627.36 518.54,627.36 518.54,625.75 521.33,625.75 521.33,623.76 524.03,623.76 524.03,622.57 525.67,622.57 525.67,621.73 526.86,621.73 526.86,619.87 530.07,619.87 530.07,619.02 531.04,619.02 531.04,617.77 534.11,617.77 534.11,616.6 535.61,616.6 535.61,614.43 538.92,614.43 538.92,612.54 542.47,612.54 543.86,612.54 543.86,610.77 546.91,610.77 546.91,609.73 547.99,609.73 547.99,608.14 550.95,608.14 550.95,605.88 554.17,605.88 554.17,604.31 556.78,604.31 556.78,603.64 559.09,603.64 560.61,603.64 560.61,603.35 563.38,603.35 563.38,602.5 566.21,602.5 566.21,601.14 568.89,601.14 568.89,600.05 572.44,600.05 572.44,599.12 575.14,599.12 575.14,598.44 577.7,598.44 577.7,597.39 579.82,597.39 579.82,595.49 583.14,595.49 583.14,594.72 585.5,594.72 585.5,594.38 586.87,594.38 589.72,594.38 592.8,594.38 595.83,594.38 595.83,593.42 599.23,593.42 599.23,592.29 601.16,592.29 603.88,592.29 603.88,590.82 604.78,590.82 604.78,590.06 606.3,590.06 606.3,589.22 609.75,589.22 609.75,588.7 611.2,588.7 611.2,587.52 614.59,587.52 614.59,586.62 618.06,586.62 618.06,586.14 620.71,586.14 620.71,585.42 624.28,585.42 624.28,584.57 626.03,584.57 626.03,583.34 629.29,583.34 629.29,582.71 631.18,582.71 631.18,581.85 633.54,581.85 633.54,580.22 636.63,580.22 636.63,579.2 639.94,579.2 642.74,579.2 645.35,579.2 647.69,579.2 649.25,579.2 650.35,579.2 653.05,579.2 655.46,579.2 659.35,579.2 659.35,578.67 661.87,578.67 661.87,578.39 665.28,578.39 665.28,578.16 667.84,578.16 671.03,578.16 672.16,578.16 673.8,578.16" fill="none" stroke="#ff7f0e" stroke-opacity="0.78" stroke-width="0.9" stroke-linejoin="miter"/>
<polyline points="462.4,784.2 462.4,780.11 462.4,777.56 462.4,773.58 462.85,773.58 462.85,772.04 462.85,767.9 462.85,765.78 462.85,762.75 462.85,761.68 462.85,760.43 462.85,758.53 462.85,755.12 463.55,755.12 463.55,751.26 463.55,747.4 463.65,747.4 463.65,744.4 464.74,744.4 464.74,740.87 466.15,740.87 466.15,738.33 466.95,738.33 466.95,735.68 467.44,735.68 467.44,734.06 467.44,730.84 467.44,728.52 468.26,728.52 468.26,727.34 468.26,724.66 468.26,722.16 468.26,720.69 468.88,720.69 468.88,719.63 469.96,719.63 469.96,717.18 471.33,717.18 471.33,715.15 472.71,715.15 472.71,711.85 473.78,711.85 473.78,710.05 473.78,706.65 474.36,706.65 474.36,704.08 474.36,702.52 475.37,702.52 475.37,699.41 476.14,699.41 476.14,696.1 478.28,696.1 478.28,693.59 479.24,693.59 479.24,690.75 480.42,690.75 480.42,689.45 481.17,689.45 481.17,687.92 482.94,687.92 482.94,686.34 482.94,684.88 483.18,684.88 483.18,681.94 484.82,681.94 484.82,679.01 486.05,679.01 486.05,677.53 486.4,677.53 486.4,674.84 486.98,674.84 486.98,671.36 487.69,671.36 487.69,667.38 488.93,667.38 488.93,665.58 489.93,665.58 489.93,662.18 491.4,662.18 491.4,661.16 492.22,661.16 492.22,658.47 494.36,658.47 494.36,655.07 496.08,655.07 496.08,653.3 498.24,653.3 498.24,651.63 499.44,651.63 499.44,650.52 500.54,650.52 500.54,648.36 501.42,648.36 501.42,645.51 503,645.51 503,643.65 503.95,643.65 503.95,641.79 504.53,641.79 504.53,639.34 507.15,639.34 507.15,637.36 509.57,637.36 509.57,635.01 511.26,635.01 511.26,634.16 513.06,634.16 513.06,632.22 515.7,632.22 515.7,630.83 516.19,630.83 516.19,628.59 517.28,628.59 517.28,626.08 519.4,626.08 519.4,623.26 522.01,623.26 522.01,621.27 524.65,621.27 524.65,621.1 526.64,621.1 526.64,619.89 528.37,619.89 528.37,618.45 529.6,618.45 529.6,617.47 530.59,617.47 530.59,615.69 533.23,615.69 533.23,614.21 535.48,614.21 535.48,612.2 538.35,612.2 538.35,611.23 540.89,611.23 540.89,610.51 544.09,610.51 544.09,608.47 547.4,608.47 547.4,606.5 550.86,606.5 550.86,605.18 553.44,605.18 553.44,604.08 556.06,604.08 556.06,602.43 559.17,602.43 559.17,601.02 562.4,601.02 562.4,599.94 565.51,599.94 565.51,598.64 567.66,598.64 567.66,597.8 569.6,597.8 571.03,597.8 571.03,597.66 574,597.66 574,596.64 577.26,596.64 577.26,595.74 581.01,595.74 581.01,594.67 583.38,594.67 587.09,594.67 587.09,593.21 589.84,593.21 589.84,592.56 591.72,592.56 593.9,592.56 593.9,592.34 597.26,592.34 597.26,591.02 599.74,591.02 599.74,590.91 602.86,590.91 602.86,590.8 604.8,590.8 604.8,590.25 608.16,590.25 608.16,589.38 609.91,589.38 611.61,589.38 611.61,588.83 615.5,588.83 615.5,587.9 617.43,587.9 617.43,586.83 619.48,586.83 622.14,586.83 622.14,586.33 624.72,586.33 624.72,584.88 628.32,584.88 628.32,583.66 630.38,583.66 630.38,583 632.25,583 632.25,581.81 635.53,581.81 635.53,580.31 639.08,580.31 639.08,580.05 641.13,580.05 642.45,580.05 644.18,580.05 644.18,579.82 646.2,579.82 646.2,579.06 650.22,579.06 654.35,579.06 654.35,578.6 658.05,578.6 659.44,578.6 659.44,578.49 662.24,578.49 666.39,578.49 668.68,578.49 671.93,578.49 673.8,578.49" fill="none" stroke="#2ca02c" stroke-opacity="0.78" stroke-width="0.9" stroke-linejoin="miter"/>
<polyline points="462.4,784.2 462.4,781.23 462.4,777.97 462.47,777.97 462.47,774.01 463.18,774.01 463.18,770.7 463.18,766.98 463.18,762.83 463.18,759.47 463.18,757.87 463.18,755.73 463.18,754.26 463.18,751.69 463.29,751.69 463.29,748.7 464.13,748.7 464.13,744.56 464.43,744.56 464.43,743.28 464.74,743.28 464.74,740.4 466.13,740.4 466.13,738.56 466.3,738.56 466.3,735.23 467.09,735.23 467.09,731.65 467.82,731.65 467.82,729.92 468.37,729.92 468.37,728.09 468.37,726.58 468.37,723 468.37,721.94 468.37,720.07 469.17,720.07 469.17,718.59 470.17,718.59 470.17,714.87 471.43,714.87 471.43,713.54 472.62,713.54 472.62,710.54 473.57,710.54 473.57,708.27 474.87,708.27 474.87,706.66 474.94,706.66 474.94,705.01 475.23,705.01 475.23,702.5 475.23,700.35 475.67,700.35 475.67,697.47 476.76,697.47 476.76,695.99 477.81,695.99 477.81,694.07 478.41,694.07 478.41,692.35 478.51,692.35 478.51,690.19 480,690.19 480,688.5 480.57,688.5 480.57,687.51 481.8,687.51 481.8,685.86 482.12,685.86 482.12,683.86 483.27,683.86 483.27,682.52 483.54,682.52 483.54,680.05 484.89,680.05 484.89,676.99 486.22,676.99 486.22,675.19 486.67,675.19 486.67,672.14 487.51,672.14 487.51,668.16 488.46,668.16 488.46,664.76 490.48,664.76 490.48,663.57 491.58,663.57 491.58,660.23 492.82,660.23 492.82,659.27 493.63,659.27 493.63,657.28 495.59,657.28 495.59,654.2 496.86,654.2 496.86,652.82 498.85,652.82 498.85,650.17 500.68,650.17 500.68,647.55 502.21,647.55 502.21,644.65 504.17,644.65 504.17,643.57 504.74,643.57 504.74,642.24 504.8,642.24 504.8,640.05 506.76,640.05 506.76,638.79 507.23,638.79 507.23,637.16 508.79,637.16 508.79,634.66 511.45,634.66 511.45,631.96 514.66,631.96 514.66,628.99 516.68,628.99 516.68,626.74 518.72,626.74 518.72,624.93 520.69,624.93 520.69,622.7 521.47,622.7 521.47,620.43 523.77,620.43 523.77,619.97 524.72,619.97 527.47,619.97 527.47,617.82 530.62,617.82 530.62,615.17 533.08,615.17 533.08,613.91 535.03,613.91 535.03,612.16 537.19,612.16 537.19,611.85 539.3,611.85 539.3,610.78 540.73,610.78 540.73,609.06 542.43,609.06 542.43,607.55 545.39,607.55 545.39,606.67 547.14,606.67 547.14,605.32 549.3,605.32 549.3,604.32 552.76,604.32 552.76,604.1 555.23,604.1 555.23,603.37 558.01,603.37 558.01,602.46 560.59,602.46 560.59,601.6 562.62,601.6 562.62,601.32 564.07,601.32 564.07,600.09 566.82,600.09 566.82,598.85 569.36,598.85 569.36,598.44 573.11,598.44 573.11,597.38 575.99,597.38 575.99,596.09 579.48,596.09 581.02,596.09 583.61,596.09 583.61,595.29 585.4,595.29 585.4,594.49 588.17,594.49 589.55,594.49 589.55,593.72 591.85,593.72 591.85,593.56 593.78,593.56 593.78,593.12 595.9,593.12 595.9,592.73 597.43,592.73 597.43,591.78 598.3,591.78 598.3,591.03 599.39,591.03 599.39,590.85 601.48,590.85 601.48,589.24 604.81,589.24 604.81,589.1 605.99,589.1 605.99,588.78 607.48,588.78 607.48,588.05 609.91,588.05 609.91,587.79 613.11,587.79 613.11,586.92 615.6,586.92 615.6,586.6 618.72,586.6 618.72,586.39 620.12,586.39 620.12,585.66 622.65,585.66 622.65,584.77 625.55,584.77 625.55,583.43 628.42,583.43 628.42,582.86 630.39,582.86 630.39,582.44 632.53,582.44 632.53,580.73 636.24,580.73 636.24,580.51 637.86,580.51 637.86,580.34 639.94,580.34 639.94,579.87 642.31,579.87 642.31,579.68 644.46,579.68 644.46,579.58 648.15,579.58 648.15,578.5 650.31,578.5 654.21,578.5 656.9,578.5 659,578.5 659,577.97 660.43,577.97 662.63,577.97 662.63,577.73 664.36,577.73 667.33,577.73 669.3,577.73 672.24,577.73 673.8,577.73" fill="none" stroke="#d62728" stroke-opacity="0.78" stroke-width="0.9" stroke-linejoin="miter"/>
<polyline points="462.4,784.2 462.4,780.31 462.4,777.76 462.4,773.73 462.4,770.89 462.4,768.66 462.4,765.39 462.82,765.39 462.82,764.1 462.82,761.29 463.31,761.29 463.31,758.8 464.93,758.8 464.93,756.9 465.04,756.9 465.04,755.35 465.04,753.51 465.28,753.51 465.28,751.09 465.54,751.09 465.54,750.14 466.19,750.14 466.19,748.32 466.63,748.32 466.63,744.64 467.66,744.64 467.66,741.45 468.63,741.45 468.63,738.04 470.96,738.04 470.96,736.08 473.44,736.08 473.44,731.97 473.67,731.97 473.67,730.2 473.96,730.2 473.96,727.68 474.34,727.68 474.34,725.95 474.78,725.95 474.79,723.53 474.79,720.03 476.36,720.03 476.36,716.63 477.69,716.63 477.69,712.93 479,712.93 479,711.09 480.19,711.09 480.19,707.84 481.28,707.84 481.28,705.31 481.92,705.31 481.92,703.68 482.63,703.68 482.63,699.77 483.6,699.77 483.6,697.44 484.75,697.44 484.75,695.53 485.07,695.53 485.07,692.24 486.23,692.24 486.23,688.92 488.53,688.92 488.53,686.25 489.74,686.25 489.74,684.68 489.74,682.69 491.29,682.69 491.29,679.93 491.29,678.72 491.77,678.72 491.77,675.3 492.73,675.3 492.73,672.21 494.58,672.21 494.58,670.12 495.65,670.12 495.65,668.14 495.96,668.14 495.96,665.93 497.74,665.93 497.74,662.89 499.86,662.89 499.86,662.3 501.21,662.3 501.21,658.85 503.48,658.85 503.48,657.58 504.18,657.58 504.18,656.47 505.33,656.47 505.33,655.65 506.62,655.65 506.62,654.16 507.45,654.16 507.45,652.92 508.66,652.92 508.66,649.67 510.41,649.67 510.41,646.99 510.61,646.99 510.61,643.48 510.98,643.48 510.98,642.26 512.05,642.26 512.05,639.42 514.58,639.42 514.58,637.6 515.6,637.6 515.6,636.23 515.81,636.23 515.81,634.05 517.2,634.05 517.2,632.63 517.81,632.63 517.81,629.3 520,629.3 520,628.81 521.35,628.81 521.35,627.77 523.25,627.77 523.25,626.23 524.63,626.23 524.63,625.25 525.25,625.25 525.25,623.75 525.87,623.75 525.87,621.98 529.2,621.98 529.2,621.07 530.48,621.07 530.48,620.17 532.48,620.17 532.48,617.17 534.61,617.17 534.61,615.7 537.96,615.7 539.52,615.7 539.52,615.51 541.46,615.51 541.46,614.56 544.02,614.56 544.02,611.13 545.62,611.13 545.62,608.47 547.46,608.47 547.46,607.53 549.04,607.53 549.04,605.7 550.93,605.7 550.93,603.99 553.9,603.99 553.9,603.89 557.39,603.89 557.39,602.85 559.62,602.85 559.62,601.6 561.5,601.6 561.5,601.14 564.24,601.14 564.24,600.04 566.39,600.04 566.39,599.05 568.46,599.05 568.46,598.72 572.01,598.72 572.01,598.14 573.41,598.14 573.41,597.58 576.98,597.58 576.98,596.86 578.02,596.86 578.02,596.39 581.26,596.39 581.26,595.54 583.3,595.54 583.3,595.43 585.21,595.43 585.21,594.6 587.03,594.6 587.03,593.29 590.32,593.29 591.93,593.29 593.58,593.29 593.58,591.51 597.2,591.51 597.2,590.61 598.37,590.61 598.37,589.69 601.52,589.69 604.18,589.69 605.84,589.69 605.84,588.53 609.49,588.53 609.49,588.25 610.61,588.25 610.61,587.96 611.78,587.96 611.78,586.83 615.56,586.83 618.45,586.83 618.45,586.64 621.35,586.64 621.35,585.89 622.9,585.89 622.9,584.92 625.14,584.92 625.14,583.48 628.46,583.48 630.22,583.48 630.22,583.16 633.86,583.16 633.86,582.5 637.49,582.5 637.49,581.31 639.46,581.31 642.24,581.31 642.24,580.87 644.16,580.87 644.16,579.84 647.79,579.84 649.08,579.84 649.08,579.03 653.06,579.03 653.06,578.71 655.96,578.71 660.08,578.71 662.8,578.71 666.87,578.71 668.46,578.71 669.93,578.71 671.53,578.71 673.8,578.7" fill="none" stroke="#9467bd" stroke-opacity="0.78" stroke-width="0.9" stroke-linejoin="miter"/>
<rect x="451.4" y="568.2" width="233" height="226.2" fill="none" stroke="#a4a4a4" stroke-width="1.15"/>
<line x1="462.4" y1="794.4" x2="462.4" y2="796.2" stroke="#777" stroke-width="0.75"/>
<line x1="451.4" y1="784.2" x2="449.6" y2="784.2" stroke="#777" stroke-width="0.75"/>
<text x="462.4" y="802.2" font-size="4.85" text-anchor="middle" fill="#363636" textLength="7.28" lengthAdjust="spacingAndGlyphs">0.0</text>
<text x="448.2" y="786.4" font-size="4.85" text-anchor="end" fill="#363636" textLength="7.28" lengthAdjust="spacingAndGlyphs">0.0</text>
<line x1="504.68" y1="794.4" x2="504.68" y2="796.2" stroke="#777" stroke-width="0.75"/>
<line x1="451.4" y1="743.1" x2="449.6" y2="743.1" stroke="#777" stroke-width="0.75"/>
<text x="504.68" y="802.2" font-size="4.85" text-anchor="middle" fill="#363636" textLength="7.28" lengthAdjust="spacingAndGlyphs">0.2</text>
<text x="448.2" y="745.3" font-size="4.85" text-anchor="end" fill="#363636" textLength="7.28" lengthAdjust="spacingAndGlyphs">0.2</text>
<line x1="546.96" y1="794.4" x2="546.96" y2="796.2" stroke="#777" stroke-width="0.75"/>
<line x1="451.4" y1="702" x2="449.6" y2="702" stroke="#777" stroke-width="0.75"/>
<text x="546.96" y="802.2" font-size="4.85" text-anchor="middle" fill="#363636" textLength="7.28" lengthAdjust="spacingAndGlyphs">0.4</text>
<text x="448.2" y="704.2" font-size="4.85" text-anchor="end" fill="#363636" textLength="7.28" lengthAdjust="spacingAndGlyphs">0.4</text>
<line x1="589.24" y1="794.4" x2="589.24" y2="796.2" stroke="#777" stroke-width="0.75"/>
<line x1="451.4" y1="660.9" x2="449.6" y2="660.9" stroke="#777" stroke-width="0.75"/>
<text x="589.24" y="802.2" font-size="4.85" text-anchor="middle" fill="#363636" textLength="7.28" lengthAdjust="spacingAndGlyphs">0.6</text>
<text x="448.2" y="663.1" font-size="4.85" text-anchor="end" fill="#363636" textLength="7.28" lengthAdjust="spacingAndGlyphs">0.6</text>
<line x1="631.52" y1="794.4" x2="631.52" y2="796.2" stroke="#777" stroke-width="0.75"/>
<line x1="451.4" y1="619.8" x2="449.6" y2="619.8" stroke="#777" stroke-width="0.75"/>
<text x="631.52" y="802.2" font-size="4.85" text-anchor="middle" fill="#363636" textLength="7.28" lengthAdjust="spacingAndGlyphs">0.8</text>
<text x="448.2" y="622" font-size="4.85" text-anchor="end" fill="#363636" textLength="7.28" lengthAdjust="spacingAndGlyphs">0.8</text>
<line x1="673.8" y1="794.4" x2="673.8" y2="796.2" stroke="#777" stroke-width="0.75"/>
<line x1="451.4" y1="578.7" x2="449.6" y2="578.7" stroke="#777" stroke-width="0.75"/>
<text x="673.8" y="802.2" font-size="4.85" text-anchor="middle" fill="#363636" textLength="7.28" lengthAdjust="spacingAndGlyphs">1.0</text>
<text x="448.2" y="580.9" font-size="4.85" text-anchor="end" fill="#363636" textLength="7.28" lengthAdjust="spacingAndGlyphs">1.0</text>
<text x="567.9" y="807.7" font-size="4.85" text-anchor="middle" fill="#363636" textLength="42.57" lengthAdjust="spacingAndGlyphs">False Positive Rate</text>
<text transform="translate(437.6,681.3) rotate(-90)" x="0" y="0" font-size="4.85" text-anchor="middle" fill="#363636" textLength="40.8" lengthAdjust="spacingAndGlyphs">True Positive Rate</text>
<text x="567.9" y="565.5" font-size="5.83" text-anchor="middle" fill="#1a1a1a" textLength="45.18" lengthAdjust="spacingAndGlyphs">DFS-5 Validation</text>
<rect x="609.72" y="756.31" width="72.39" height="35.8" rx="1" fill="#fff" fill-opacity="0.85" stroke="#e0e0e0" stroke-width="0.6"/>
<line x1="611.55" y1="760.21" x2="620.71" y2="760.21" stroke="#1f77b4" stroke-opacity="0.5" stroke-width="1.6"/>
<text x="624.98" y="761.88" font-size="4.85" fill="#363636" textLength="37.56" lengthAdjust="spacingAndGlyphs">LR(CSL)(0.8058)</text>
<line x1="611.55" y1="767.16" x2="620.71" y2="767.16" stroke="#ff7f0e" stroke-opacity="0.5" stroke-width="1.6"/>
<text x="624.98" y="768.83" font-size="4.85" fill="#363636" textLength="25.33" lengthAdjust="spacingAndGlyphs">LR(0.8053)</text>
<line x1="611.55" y1="774.11" x2="620.71" y2="774.11" stroke="#2ca02c" stroke-opacity="0.5" stroke-width="1.6"/>
<text x="624.98" y="775.78" font-size="4.85" fill="#363636" textLength="43.07" lengthAdjust="spacingAndGlyphs">LinearSVC(0.8179)</text>
<line x1="611.55" y1="781.06" x2="620.71" y2="781.06" stroke="#d62728" stroke-opacity="0.5" stroke-width="1.6"/>
<text x="624.98" y="782.73" font-size="4.85" fill="#363636" textLength="55.3" lengthAdjust="spacingAndGlyphs">LinearSVC(CSL)(0.8185)</text>
<line x1="611.55" y1="788.01" x2="620.71" y2="788.01" stroke="#9467bd" stroke-opacity="0.5" stroke-width="1.6"/>
<text x="624.98" y="789.68" font-size="4.85" fill="#363636" textLength="40.2" lengthAdjust="spacingAndGlyphs">Lgb(CSL)(0.7966)</text>
</svg></body></html>
